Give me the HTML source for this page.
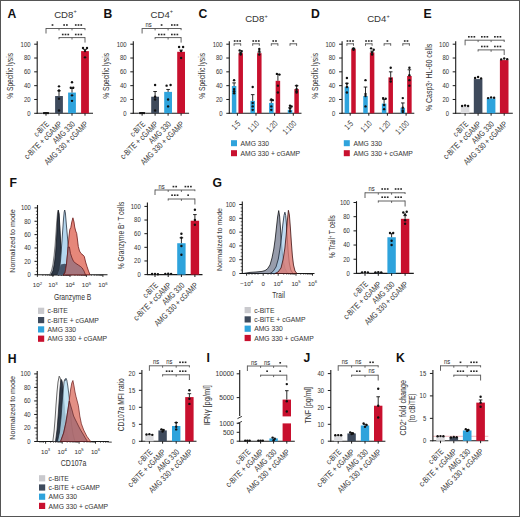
<!DOCTYPE html><html><head><meta charset="utf-8"><style>html,body{margin:0;padding:0;background:#fff;}svg{display:block;font-family:"Liberation Sans",sans-serif;} text{stroke:#3a3a3a;stroke-width:0.04px;}</style></head><body>
<svg width="520" height="517" viewBox="0 0 520 517">
<rect x="0" y="0" width="520" height="517" fill="#fff"/>
<text x="7.6" y="17.6" font-size="12.2" text-anchor="start" fill="#111" font-weight="bold" style="stroke:none">A</text>
<text x="103.4" y="17.6" font-size="12.2" text-anchor="start" fill="#111" font-weight="bold" style="stroke:none">B</text>
<text x="198.4" y="17.6" font-size="12.2" text-anchor="start" fill="#111" font-weight="bold" style="stroke:none">C</text>
<text x="311.1" y="17.6" font-size="12.2" text-anchor="start" fill="#111" font-weight="bold" style="stroke:none">D</text>
<text x="423.4" y="17.6" font-size="12.2" text-anchor="start" fill="#111" font-weight="bold" style="stroke:none">E</text>
<text x="9.6" y="187" font-size="12.2" text-anchor="start" fill="#111" font-weight="bold" style="stroke:none">F</text>
<text x="212.6" y="186.9" font-size="12.2" text-anchor="start" fill="#111" font-weight="bold" style="stroke:none">G</text>
<text x="7.7" y="363.4" font-size="12.2" text-anchor="start" fill="#111" font-weight="bold" style="stroke:none">H</text>
<text x="206.4" y="362.2" font-size="12.2" text-anchor="start" fill="#111" font-weight="bold" style="stroke:none">I</text>
<text x="303.4" y="362.2" font-size="12.2" text-anchor="start" fill="#111" font-weight="bold" style="stroke:none">J</text>
<text x="396.1" y="362.4" font-size="12.2" text-anchor="start" fill="#111" font-weight="bold" style="stroke:none">K</text>
<text x="54.2" y="17.9" font-size="9.6" fill="#383838">CD8<tspan font-size="5.6" dy="-4.6">+</tspan></text>
<text x="150.6" y="17.9" font-size="9.6" fill="#383838">CD4<tspan font-size="5.6" dy="-4.6">+</tspan></text>
<text x="245.2" y="22.3" font-size="9.6" fill="#383838">CD8<tspan font-size="5.6" dy="-4.6">+</tspan></text>
<text x="367.2" y="22.3" font-size="9.6" fill="#383838">CD4<tspan font-size="5.6" dy="-4.6">+</tspan></text>
<line x1="37.2" y1="41.2" x2="37.2" y2="113.8" stroke="#1a1a1a" stroke-width="1.1"/>
<line x1="34.2" y1="113.3" x2="37.2" y2="113.3" stroke="#1a1a1a" stroke-width="1"/>
<text x="30.5" y="115.65" font-size="6.9" text-anchor="end" fill="#383838" textLength="3.3" lengthAdjust="spacingAndGlyphs">0</text>
<line x1="34.2" y1="99.48" x2="37.2" y2="99.48" stroke="#1a1a1a" stroke-width="1"/>
<text x="30.5" y="101.83" font-size="6.9" text-anchor="end" fill="#383838" textLength="6.6" lengthAdjust="spacingAndGlyphs">20</text>
<line x1="34.2" y1="85.66" x2="37.2" y2="85.66" stroke="#1a1a1a" stroke-width="1"/>
<text x="30.5" y="88.01" font-size="6.9" text-anchor="end" fill="#383838" textLength="6.6" lengthAdjust="spacingAndGlyphs">40</text>
<line x1="34.2" y1="71.84" x2="37.2" y2="71.84" stroke="#1a1a1a" stroke-width="1"/>
<text x="30.5" y="74.19" font-size="6.9" text-anchor="end" fill="#383838" textLength="6.6" lengthAdjust="spacingAndGlyphs">60</text>
<line x1="34.2" y1="58.02" x2="37.2" y2="58.02" stroke="#1a1a1a" stroke-width="1"/>
<text x="30.5" y="60.37" font-size="6.9" text-anchor="end" fill="#383838" textLength="6.6" lengthAdjust="spacingAndGlyphs">80</text>
<line x1="34.2" y1="44.2" x2="37.2" y2="44.2" stroke="#1a1a1a" stroke-width="1"/>
<text x="30.5" y="46.55" font-size="6.9" text-anchor="end" fill="#383838" textLength="9.9" lengthAdjust="spacingAndGlyphs">100</text>
<line x1="36.7" y1="113.3" x2="93" y2="113.3" stroke="#1a1a1a" stroke-width="1.1"/>
<rect x="42.1" y="112.89" width="7.8" height="0.41" fill="#dcdcdf"/>
<line x1="46" y1="112.89" x2="46" y2="112.68" stroke="#111" stroke-width="0.9"/>
<line x1="44.2" y1="112.68" x2="47.8" y2="112.68" stroke="#111" stroke-width="0.9"/>
<circle cx="44" cy="113.09" r="1.2" fill="#111"/>
<circle cx="46" cy="113.09" r="1.2" fill="#111"/>
<circle cx="48" cy="113.09" r="1.2" fill="#111"/>
<rect x="55.1" y="96.03" width="7.8" height="17.27" fill="#3e4a5c"/>
<line x1="59" y1="96.03" x2="59" y2="90.84" stroke="#111" stroke-width="0.9"/>
<line x1="57.2" y1="90.84" x2="60.8" y2="90.84" stroke="#111" stroke-width="0.9"/>
<circle cx="59" cy="86.35" r="1.2" fill="#111"/>
<circle cx="59" cy="90.5" r="1.2" fill="#111"/>
<circle cx="59" cy="98.79" r="1.2" fill="#111"/>
<circle cx="59" cy="110.54" r="1.2" fill="#111"/>
<rect x="68.1" y="92.57" width="7.8" height="20.73" fill="#2ea3dc"/>
<line x1="72" y1="92.57" x2="72" y2="88.42" stroke="#111" stroke-width="0.9"/>
<line x1="70.2" y1="88.42" x2="73.8" y2="88.42" stroke="#111" stroke-width="0.9"/>
<circle cx="72" cy="82.2" r="1.2" fill="#111"/>
<circle cx="70.8" cy="87.73" r="1.2" fill="#111"/>
<circle cx="73.2" cy="87.73" r="1.2" fill="#111"/>
<circle cx="72" cy="95.33" r="1.2" fill="#111"/>
<circle cx="72" cy="100.86" r="1.2" fill="#111"/>
<rect x="81.1" y="51.11" width="7.8" height="62.19" fill="#c8102e"/>
<line x1="85" y1="51.11" x2="85" y2="49.38" stroke="#111" stroke-width="0.9"/>
<line x1="83.2" y1="49.38" x2="86.8" y2="49.38" stroke="#111" stroke-width="0.9"/>
<circle cx="83" cy="48" r="1.2" fill="#111"/>
<circle cx="87" cy="48" r="1.2" fill="#111"/>
<circle cx="85" cy="51.11" r="1.2" fill="#111"/>
<circle cx="85" cy="57.33" r="1.2" fill="#111"/>
<line x1="46" y1="113.3" x2="46" y2="115.7" stroke="#1a1a1a" stroke-width="1"/>
<line x1="59" y1="113.3" x2="59" y2="115.7" stroke="#1a1a1a" stroke-width="1"/>
<line x1="72" y1="113.3" x2="72" y2="115.7" stroke="#1a1a1a" stroke-width="1"/>
<line x1="85" y1="113.3" x2="85" y2="115.7" stroke="#1a1a1a" stroke-width="1"/>
<text x="49.6" y="124.7" font-size="8.4" text-anchor="end" fill="#383838" transform="rotate(-45 49.6 124.7)" textLength="17.64" lengthAdjust="spacingAndGlyphs">c-BiTE</text>
<text x="62.6" y="124.7" font-size="8.4" text-anchor="end" fill="#383838" transform="rotate(-45 62.6 124.7)" textLength="49.69" lengthAdjust="spacingAndGlyphs">c-BiTE + cGAMP</text>
<text x="75.6" y="124.7" font-size="8.4" text-anchor="end" fill="#383838" transform="rotate(-45 75.6 124.7)" textLength="27.68" lengthAdjust="spacingAndGlyphs">AMG 330</text>
<text x="88.6" y="124.7" font-size="8.4" text-anchor="end" fill="#383838" transform="rotate(-45 88.6 124.7)" textLength="57.71" lengthAdjust="spacingAndGlyphs">AMG 330 + cGAMP</text>
<line x1="46" y1="28.5" x2="85" y2="28.5" stroke="#505050" stroke-width="0.9"/>
<line x1="46" y1="28.05" x2="46" y2="33.5" stroke="#505050" stroke-width="0.9"/>
<line x1="85" y1="28.05" x2="85" y2="30.2" stroke="#505050" stroke-width="0.9"/>
<line x1="59" y1="28.5" x2="59" y2="30.4" stroke="#505050" stroke-width="0.9"/>
<line x1="72" y1="28.5" x2="72" y2="30.4" stroke="#505050" stroke-width="0.9"/>
<rect x="51.65" y="24.2" width="1.7" height="1.6" fill="#2a2a2a"/>
<rect x="63.27" y="24.2" width="1.7" height="1.6" fill="#2a2a2a"/>
<rect x="66.03" y="24.2" width="1.7" height="1.6" fill="#2a2a2a"/>
<rect x="74.9" y="24.2" width="1.7" height="1.6" fill="#2a2a2a"/>
<rect x="77.65" y="24.2" width="1.7" height="1.6" fill="#2a2a2a"/>
<rect x="80.4" y="24.2" width="1.7" height="1.6" fill="#2a2a2a"/>
<line x1="59" y1="37.6" x2="85" y2="37.6" stroke="#505050" stroke-width="0.9"/>
<line x1="59" y1="37.15" x2="59" y2="39.2" stroke="#505050" stroke-width="0.9"/>
<line x1="85" y1="37.15" x2="85" y2="42.6" stroke="#505050" stroke-width="0.9"/>
<line x1="72" y1="37.6" x2="72" y2="39.5" stroke="#505050" stroke-width="0.9"/>
<rect x="61.9" y="33.7" width="1.7" height="1.6" fill="#2a2a2a"/>
<rect x="64.65" y="33.7" width="1.7" height="1.6" fill="#2a2a2a"/>
<rect x="67.4" y="33.7" width="1.7" height="1.6" fill="#2a2a2a"/>
<rect x="74.9" y="33.7" width="1.7" height="1.6" fill="#2a2a2a"/>
<rect x="77.65" y="33.7" width="1.7" height="1.6" fill="#2a2a2a"/>
<rect x="80.4" y="33.7" width="1.7" height="1.6" fill="#2a2a2a"/>
<text x="13.4" y="75.9" font-size="8.7" text-anchor="middle" fill="#383838" textLength="45.8" lengthAdjust="spacingAndGlyphs" transform="rotate(-90 13.4 75.9)">% Specific lysis</text>
<line x1="133.3" y1="41.2" x2="133.3" y2="113.8" stroke="#1a1a1a" stroke-width="1.1"/>
<line x1="130.3" y1="113.3" x2="133.3" y2="113.3" stroke="#1a1a1a" stroke-width="1"/>
<text x="126.6" y="115.65" font-size="6.9" text-anchor="end" fill="#383838" textLength="3.3" lengthAdjust="spacingAndGlyphs">0</text>
<line x1="130.3" y1="99.48" x2="133.3" y2="99.48" stroke="#1a1a1a" stroke-width="1"/>
<text x="126.6" y="101.83" font-size="6.9" text-anchor="end" fill="#383838" textLength="6.6" lengthAdjust="spacingAndGlyphs">20</text>
<line x1="130.3" y1="85.66" x2="133.3" y2="85.66" stroke="#1a1a1a" stroke-width="1"/>
<text x="126.6" y="88.01" font-size="6.9" text-anchor="end" fill="#383838" textLength="6.6" lengthAdjust="spacingAndGlyphs">40</text>
<line x1="130.3" y1="71.84" x2="133.3" y2="71.84" stroke="#1a1a1a" stroke-width="1"/>
<text x="126.6" y="74.19" font-size="6.9" text-anchor="end" fill="#383838" textLength="6.6" lengthAdjust="spacingAndGlyphs">60</text>
<line x1="130.3" y1="58.02" x2="133.3" y2="58.02" stroke="#1a1a1a" stroke-width="1"/>
<text x="126.6" y="60.37" font-size="6.9" text-anchor="end" fill="#383838" textLength="6.6" lengthAdjust="spacingAndGlyphs">80</text>
<line x1="130.3" y1="44.2" x2="133.3" y2="44.2" stroke="#1a1a1a" stroke-width="1"/>
<text x="126.6" y="46.55" font-size="6.9" text-anchor="end" fill="#383838" textLength="9.9" lengthAdjust="spacingAndGlyphs">100</text>
<line x1="132.8" y1="113.3" x2="189.1" y2="113.3" stroke="#1a1a1a" stroke-width="1.1"/>
<rect x="138.2" y="112.89" width="7.8" height="0.41" fill="#dcdcdf"/>
<line x1="142.1" y1="112.89" x2="142.1" y2="112.68" stroke="#111" stroke-width="0.9"/>
<line x1="140.3" y1="112.68" x2="143.9" y2="112.68" stroke="#111" stroke-width="0.9"/>
<circle cx="140.1" cy="113.09" r="1.2" fill="#111"/>
<circle cx="142.1" cy="113.09" r="1.2" fill="#111"/>
<circle cx="144.1" cy="113.09" r="1.2" fill="#111"/>
<rect x="151.2" y="96.72" width="7.8" height="16.58" fill="#3e4a5c"/>
<line x1="155.1" y1="96.72" x2="155.1" y2="91.53" stroke="#111" stroke-width="0.9"/>
<line x1="153.3" y1="91.53" x2="156.9" y2="91.53" stroke="#111" stroke-width="0.9"/>
<circle cx="155.1" cy="84.97" r="1.2" fill="#111"/>
<circle cx="155.1" cy="96.72" r="1.2" fill="#111"/>
<circle cx="155.1" cy="99.48" r="1.2" fill="#111"/>
<circle cx="155.1" cy="110.54" r="1.2" fill="#111"/>
<rect x="164.2" y="91.88" width="7.8" height="21.42" fill="#2ea3dc"/>
<line x1="168.1" y1="91.88" x2="168.1" y2="89.46" stroke="#111" stroke-width="0.9"/>
<line x1="166.3" y1="89.46" x2="169.9" y2="89.46" stroke="#111" stroke-width="0.9"/>
<circle cx="166.6" cy="85.66" r="1.2" fill="#111"/>
<circle cx="170.6" cy="84.97" r="1.2" fill="#111"/>
<circle cx="168.1" cy="99.48" r="1.2" fill="#111"/>
<circle cx="168.1" cy="106.39" r="1.2" fill="#111"/>
<rect x="177.2" y="51.8" width="7.8" height="61.5" fill="#c8102e"/>
<line x1="181.1" y1="51.8" x2="181.1" y2="50.07" stroke="#111" stroke-width="0.9"/>
<line x1="179.3" y1="50.07" x2="182.9" y2="50.07" stroke="#111" stroke-width="0.9"/>
<circle cx="179.1" cy="46.96" r="1.2" fill="#111"/>
<circle cx="183.1" cy="46.96" r="1.2" fill="#111"/>
<circle cx="181.1" cy="51.11" r="1.2" fill="#111"/>
<circle cx="181.1" cy="58.02" r="1.2" fill="#111"/>
<line x1="142.1" y1="113.3" x2="142.1" y2="115.7" stroke="#1a1a1a" stroke-width="1"/>
<line x1="155.1" y1="113.3" x2="155.1" y2="115.7" stroke="#1a1a1a" stroke-width="1"/>
<line x1="168.1" y1="113.3" x2="168.1" y2="115.7" stroke="#1a1a1a" stroke-width="1"/>
<line x1="181.1" y1="113.3" x2="181.1" y2="115.7" stroke="#1a1a1a" stroke-width="1"/>
<text x="145.7" y="124.7" font-size="8.4" text-anchor="end" fill="#383838" transform="rotate(-45 145.7 124.7)" textLength="17.64" lengthAdjust="spacingAndGlyphs">c-BiTE</text>
<text x="158.7" y="124.7" font-size="8.4" text-anchor="end" fill="#383838" transform="rotate(-45 158.7 124.7)" textLength="49.69" lengthAdjust="spacingAndGlyphs">c-BiTE + cGAMP</text>
<text x="171.7" y="124.7" font-size="8.4" text-anchor="end" fill="#383838" transform="rotate(-45 171.7 124.7)" textLength="27.68" lengthAdjust="spacingAndGlyphs">AMG 330</text>
<text x="184.7" y="124.7" font-size="8.4" text-anchor="end" fill="#383838" transform="rotate(-45 184.7 124.7)" textLength="57.71" lengthAdjust="spacingAndGlyphs">AMG 330 + cGAMP</text>
<line x1="142.1" y1="28.5" x2="181.1" y2="28.5" stroke="#505050" stroke-width="0.9"/>
<line x1="142.1" y1="28.05" x2="142.1" y2="33.5" stroke="#505050" stroke-width="0.9"/>
<line x1="181.1" y1="28.05" x2="181.1" y2="30.2" stroke="#505050" stroke-width="0.9"/>
<line x1="155.1" y1="28.5" x2="155.1" y2="30.4" stroke="#505050" stroke-width="0.9"/>
<line x1="168.1" y1="28.5" x2="168.1" y2="30.4" stroke="#505050" stroke-width="0.9"/>
<text x="148.6" y="26.9" font-size="6.5" text-anchor="middle" fill="#333" textLength="6.18" lengthAdjust="spacingAndGlyphs">ns</text>
<rect x="160.75" y="24.2" width="1.7" height="1.6" fill="#2a2a2a"/>
<rect x="171" y="24.2" width="1.7" height="1.6" fill="#2a2a2a"/>
<rect x="173.75" y="24.2" width="1.7" height="1.6" fill="#2a2a2a"/>
<rect x="176.5" y="24.2" width="1.7" height="1.6" fill="#2a2a2a"/>
<line x1="155.1" y1="37.6" x2="181.1" y2="37.6" stroke="#505050" stroke-width="0.9"/>
<line x1="155.1" y1="37.15" x2="155.1" y2="39.2" stroke="#505050" stroke-width="0.9"/>
<line x1="181.1" y1="37.15" x2="181.1" y2="42.6" stroke="#505050" stroke-width="0.9"/>
<line x1="168.1" y1="37.6" x2="168.1" y2="39.5" stroke="#505050" stroke-width="0.9"/>
<rect x="158" y="33.7" width="1.7" height="1.6" fill="#2a2a2a"/>
<rect x="160.75" y="33.7" width="1.7" height="1.6" fill="#2a2a2a"/>
<rect x="163.5" y="33.7" width="1.7" height="1.6" fill="#2a2a2a"/>
<rect x="171" y="33.7" width="1.7" height="1.6" fill="#2a2a2a"/>
<rect x="173.75" y="33.7" width="1.7" height="1.6" fill="#2a2a2a"/>
<rect x="176.5" y="33.7" width="1.7" height="1.6" fill="#2a2a2a"/>
<text x="109.5" y="75.9" font-size="8.7" text-anchor="middle" fill="#383838" textLength="45.8" lengthAdjust="spacingAndGlyphs" transform="rotate(-90 109.5 75.9)">% Specific lysis</text>
<line x1="229.3" y1="41.2" x2="229.3" y2="113.8" stroke="#1a1a1a" stroke-width="1.1"/>
<line x1="226.3" y1="113.3" x2="229.3" y2="113.3" stroke="#1a1a1a" stroke-width="1"/>
<text x="222.6" y="115.65" font-size="6.9" text-anchor="end" fill="#383838" textLength="3.3" lengthAdjust="spacingAndGlyphs">0</text>
<line x1="226.3" y1="99.48" x2="229.3" y2="99.48" stroke="#1a1a1a" stroke-width="1"/>
<text x="222.6" y="101.83" font-size="6.9" text-anchor="end" fill="#383838" textLength="6.6" lengthAdjust="spacingAndGlyphs">20</text>
<line x1="226.3" y1="85.66" x2="229.3" y2="85.66" stroke="#1a1a1a" stroke-width="1"/>
<text x="222.6" y="88.01" font-size="6.9" text-anchor="end" fill="#383838" textLength="6.6" lengthAdjust="spacingAndGlyphs">40</text>
<line x1="226.3" y1="71.84" x2="229.3" y2="71.84" stroke="#1a1a1a" stroke-width="1"/>
<text x="222.6" y="74.19" font-size="6.9" text-anchor="end" fill="#383838" textLength="6.6" lengthAdjust="spacingAndGlyphs">60</text>
<line x1="226.3" y1="58.02" x2="229.3" y2="58.02" stroke="#1a1a1a" stroke-width="1"/>
<text x="222.6" y="60.37" font-size="6.9" text-anchor="end" fill="#383838" textLength="6.6" lengthAdjust="spacingAndGlyphs">80</text>
<line x1="226.3" y1="44.2" x2="229.3" y2="44.2" stroke="#1a1a1a" stroke-width="1"/>
<text x="222.6" y="46.55" font-size="6.9" text-anchor="end" fill="#383838" textLength="9.9" lengthAdjust="spacingAndGlyphs">100</text>
<line x1="228.8" y1="113.3" x2="301.5" y2="113.3" stroke="#1a1a1a" stroke-width="1.1"/>
<rect x="231.85" y="86.01" width="4.5" height="27.29" fill="#2ea3dc"/>
<line x1="234.1" y1="86.01" x2="234.1" y2="82.9" stroke="#111" stroke-width="0.9"/>
<line x1="232.3" y1="82.9" x2="235.9" y2="82.9" stroke="#111" stroke-width="0.9"/>
<circle cx="234.1" cy="80.13" r="1.2" fill="#111"/>
<circle cx="234.1" cy="89.11" r="1.2" fill="#111"/>
<circle cx="234.1" cy="91.19" r="1.2" fill="#111"/>
<circle cx="234.1" cy="93.26" r="1.2" fill="#111"/>
<rect x="238.45" y="53.18" width="4.5" height="60.12" fill="#c8102e"/>
<line x1="240.7" y1="53.18" x2="240.7" y2="52.15" stroke="#111" stroke-width="0.9"/>
<line x1="238.9" y1="52.15" x2="242.5" y2="52.15" stroke="#111" stroke-width="0.9"/>
<circle cx="239.7" cy="50.42" r="1.2" fill="#111"/>
<circle cx="241.7" cy="51.11" r="1.2" fill="#111"/>
<circle cx="240.7" cy="53.18" r="1.2" fill="#111"/>
<circle cx="240.7" cy="54.57" r="1.2" fill="#111"/>
<line x1="234.1" y1="43.8" x2="240.7" y2="43.8" stroke="#505050" stroke-width="0.9"/>
<line x1="234.1" y1="43.35" x2="234.1" y2="45.8" stroke="#505050" stroke-width="0.9"/>
<line x1="240.7" y1="43.35" x2="240.7" y2="45.8" stroke="#505050" stroke-width="0.9"/>
<rect x="233.8" y="40.2" width="1.7" height="1.6" fill="#2a2a2a"/>
<rect x="236.55" y="40.2" width="1.7" height="1.6" fill="#2a2a2a"/>
<rect x="239.3" y="40.2" width="1.7" height="1.6" fill="#2a2a2a"/>
<rect x="250.45" y="100.86" width="4.5" height="12.44" fill="#2ea3dc"/>
<line x1="252.7" y1="100.86" x2="252.7" y2="94.64" stroke="#111" stroke-width="0.9"/>
<line x1="250.9" y1="94.64" x2="254.5" y2="94.64" stroke="#111" stroke-width="0.9"/>
<circle cx="252.7" cy="87.04" r="1.2" fill="#111"/>
<circle cx="252.7" cy="102.94" r="1.2" fill="#111"/>
<circle cx="252.7" cy="106.39" r="1.2" fill="#111"/>
<circle cx="252.7" cy="109.84" r="1.2" fill="#111"/>
<rect x="257.05" y="53.18" width="4.5" height="60.12" fill="#c8102e"/>
<line x1="259.3" y1="53.18" x2="259.3" y2="52.15" stroke="#111" stroke-width="0.9"/>
<line x1="257.5" y1="52.15" x2="261.1" y2="52.15" stroke="#111" stroke-width="0.9"/>
<circle cx="259.3" cy="49.04" r="1.2" fill="#111"/>
<circle cx="259.3" cy="51.11" r="1.2" fill="#111"/>
<circle cx="259.3" cy="54.57" r="1.2" fill="#111"/>
<line x1="252.7" y1="43.8" x2="259.3" y2="43.8" stroke="#505050" stroke-width="0.9"/>
<line x1="252.7" y1="43.35" x2="252.7" y2="45.8" stroke="#505050" stroke-width="0.9"/>
<line x1="259.3" y1="43.35" x2="259.3" y2="45.8" stroke="#505050" stroke-width="0.9"/>
<rect x="252.4" y="40.2" width="1.7" height="1.6" fill="#2a2a2a"/>
<rect x="255.15" y="40.2" width="1.7" height="1.6" fill="#2a2a2a"/>
<rect x="257.9" y="40.2" width="1.7" height="1.6" fill="#2a2a2a"/>
<rect x="269.05" y="102.94" width="4.5" height="10.36" fill="#2ea3dc"/>
<line x1="271.3" y1="102.94" x2="271.3" y2="100.17" stroke="#111" stroke-width="0.9"/>
<line x1="269.5" y1="100.17" x2="273.1" y2="100.17" stroke="#111" stroke-width="0.9"/>
<circle cx="271.3" cy="99.48" r="1.2" fill="#111"/>
<circle cx="272.8" cy="100.17" r="1.2" fill="#111"/>
<circle cx="271.3" cy="106.39" r="1.2" fill="#111"/>
<circle cx="271.3" cy="109.84" r="1.2" fill="#111"/>
<rect x="275.65" y="80.82" width="4.5" height="32.48" fill="#c8102e"/>
<line x1="277.9" y1="80.82" x2="277.9" y2="74.26" stroke="#111" stroke-width="0.9"/>
<line x1="276.1" y1="74.26" x2="279.7" y2="74.26" stroke="#111" stroke-width="0.9"/>
<circle cx="276.9" cy="73.91" r="1.2" fill="#111"/>
<circle cx="279.5" cy="74.6" r="1.2" fill="#111"/>
<circle cx="277.9" cy="85.66" r="1.2" fill="#111"/>
<circle cx="277.9" cy="92.57" r="1.2" fill="#111"/>
<line x1="271.3" y1="43.8" x2="277.9" y2="43.8" stroke="#505050" stroke-width="0.9"/>
<line x1="271.3" y1="43.35" x2="271.3" y2="45.8" stroke="#505050" stroke-width="0.9"/>
<line x1="277.9" y1="43.35" x2="277.9" y2="45.8" stroke="#505050" stroke-width="0.9"/>
<rect x="272.38" y="40.2" width="1.7" height="1.6" fill="#2a2a2a"/>
<rect x="275.12" y="40.2" width="1.7" height="1.6" fill="#2a2a2a"/>
<rect x="287.75" y="109.84" width="4.5" height="3.45" fill="#2ea3dc"/>
<line x1="290" y1="109.84" x2="290" y2="107.77" stroke="#111" stroke-width="0.9"/>
<line x1="288.2" y1="107.77" x2="291.8" y2="107.77" stroke="#111" stroke-width="0.9"/>
<circle cx="290" cy="105.7" r="1.2" fill="#111"/>
<circle cx="291.6" cy="106.39" r="1.2" fill="#111"/>
<circle cx="290" cy="108.46" r="1.2" fill="#111"/>
<circle cx="290" cy="111.23" r="1.2" fill="#111"/>
<rect x="294.35" y="89.11" width="4.5" height="24.18" fill="#c8102e"/>
<line x1="296.6" y1="89.11" x2="296.6" y2="85.66" stroke="#111" stroke-width="0.9"/>
<line x1="294.8" y1="85.66" x2="298.4" y2="85.66" stroke="#111" stroke-width="0.9"/>
<circle cx="296.6" cy="85.66" r="1.2" fill="#111"/>
<circle cx="296.6" cy="89.11" r="1.2" fill="#111"/>
<circle cx="296.6" cy="91.19" r="1.2" fill="#111"/>
<circle cx="296.6" cy="92.57" r="1.2" fill="#111"/>
<line x1="290" y1="43.8" x2="296.6" y2="43.8" stroke="#505050" stroke-width="0.9"/>
<line x1="290" y1="43.35" x2="290" y2="45.8" stroke="#505050" stroke-width="0.9"/>
<line x1="296.6" y1="43.35" x2="296.6" y2="45.8" stroke="#505050" stroke-width="0.9"/>
<rect x="292.45" y="40.2" width="1.7" height="1.6" fill="#2a2a2a"/>
<line x1="237.4" y1="113.3" x2="237.4" y2="115.7" stroke="#1a1a1a" stroke-width="1"/>
<line x1="256" y1="113.3" x2="256" y2="115.7" stroke="#1a1a1a" stroke-width="1"/>
<line x1="274.6" y1="113.3" x2="274.6" y2="115.7" stroke="#1a1a1a" stroke-width="1"/>
<line x1="293.3" y1="113.3" x2="293.3" y2="115.7" stroke="#1a1a1a" stroke-width="1"/>
<text x="241" y="124.2" font-size="8.4" text-anchor="end" fill="#383838" transform="rotate(-45 241 124.2)" textLength="8.52" lengthAdjust="spacingAndGlyphs">1:5</text>
<text x="259.6" y="124.2" font-size="8.4" text-anchor="end" fill="#383838" transform="rotate(-45 259.6 124.2)" textLength="11.93" lengthAdjust="spacingAndGlyphs">1:10</text>
<text x="278.2" y="124.2" font-size="8.4" text-anchor="end" fill="#383838" transform="rotate(-45 278.2 124.2)" textLength="11.93" lengthAdjust="spacingAndGlyphs">1:20</text>
<text x="296.9" y="124.2" font-size="8.4" text-anchor="end" fill="#383838" transform="rotate(-45 296.9 124.2)" textLength="15.35" lengthAdjust="spacingAndGlyphs">1:100</text>
<text x="205.5" y="75.9" font-size="8.7" text-anchor="middle" fill="#383838" textLength="45.8" lengthAdjust="spacingAndGlyphs" transform="rotate(-90 205.5 75.9)">% Specific lysis</text>
<rect x="231" y="140.2" width="6" height="6" fill="#2ea3dc"/>
<text x="240.6" y="146" font-size="7.5" text-anchor="start" fill="#383838" textLength="28.51" lengthAdjust="spacingAndGlyphs">AMG 330</text>
<rect x="231" y="150.2" width="6" height="6" fill="#c8102e"/>
<text x="240.6" y="156" font-size="7.5" text-anchor="start" fill="#383838" textLength="59.46" lengthAdjust="spacingAndGlyphs">AMG 330 + cGAMP</text>
<line x1="342.1" y1="41.2" x2="342.1" y2="113.8" stroke="#1a1a1a" stroke-width="1.1"/>
<line x1="339.1" y1="113.3" x2="342.1" y2="113.3" stroke="#1a1a1a" stroke-width="1"/>
<text x="335.4" y="115.65" font-size="6.9" text-anchor="end" fill="#383838" textLength="3.3" lengthAdjust="spacingAndGlyphs">0</text>
<line x1="339.1" y1="99.48" x2="342.1" y2="99.48" stroke="#1a1a1a" stroke-width="1"/>
<text x="335.4" y="101.83" font-size="6.9" text-anchor="end" fill="#383838" textLength="6.6" lengthAdjust="spacingAndGlyphs">20</text>
<line x1="339.1" y1="85.66" x2="342.1" y2="85.66" stroke="#1a1a1a" stroke-width="1"/>
<text x="335.4" y="88.01" font-size="6.9" text-anchor="end" fill="#383838" textLength="6.6" lengthAdjust="spacingAndGlyphs">40</text>
<line x1="339.1" y1="71.84" x2="342.1" y2="71.84" stroke="#1a1a1a" stroke-width="1"/>
<text x="335.4" y="74.19" font-size="6.9" text-anchor="end" fill="#383838" textLength="6.6" lengthAdjust="spacingAndGlyphs">60</text>
<line x1="339.1" y1="58.02" x2="342.1" y2="58.02" stroke="#1a1a1a" stroke-width="1"/>
<text x="335.4" y="60.37" font-size="6.9" text-anchor="end" fill="#383838" textLength="6.6" lengthAdjust="spacingAndGlyphs">80</text>
<line x1="339.1" y1="44.2" x2="342.1" y2="44.2" stroke="#1a1a1a" stroke-width="1"/>
<text x="335.4" y="46.55" font-size="6.9" text-anchor="end" fill="#383838" textLength="9.9" lengthAdjust="spacingAndGlyphs">100</text>
<line x1="341.6" y1="113.3" x2="414.3" y2="113.3" stroke="#1a1a1a" stroke-width="1.1"/>
<rect x="344.65" y="86.7" width="4.5" height="26.6" fill="#2ea3dc"/>
<line x1="346.9" y1="86.7" x2="346.9" y2="83.24" stroke="#111" stroke-width="0.9"/>
<line x1="345.1" y1="83.24" x2="348.7" y2="83.24" stroke="#111" stroke-width="0.9"/>
<circle cx="346.9" cy="78.06" r="1.2" fill="#111"/>
<circle cx="346.9" cy="83.59" r="1.2" fill="#111"/>
<circle cx="346.9" cy="87.04" r="1.2" fill="#111"/>
<circle cx="346.9" cy="92.57" r="1.2" fill="#111"/>
<rect x="351.25" y="49.04" width="4.5" height="64.26" fill="#c8102e"/>
<line x1="353.5" y1="49.04" x2="353.5" y2="48.35" stroke="#111" stroke-width="0.9"/>
<line x1="351.7" y1="48.35" x2="355.3" y2="48.35" stroke="#111" stroke-width="0.9"/>
<circle cx="353.5" cy="48.35" r="1.2" fill="#111"/>
<circle cx="353.5" cy="49.04" r="1.2" fill="#111"/>
<circle cx="353.5" cy="49.73" r="1.2" fill="#111"/>
<line x1="346.9" y1="43.8" x2="353.5" y2="43.8" stroke="#505050" stroke-width="0.9"/>
<line x1="346.9" y1="43.35" x2="346.9" y2="45.8" stroke="#505050" stroke-width="0.9"/>
<line x1="353.5" y1="43.35" x2="353.5" y2="45.8" stroke="#505050" stroke-width="0.9"/>
<rect x="346.6" y="40.2" width="1.7" height="1.6" fill="#2a2a2a"/>
<rect x="349.35" y="40.2" width="1.7" height="1.6" fill="#2a2a2a"/>
<rect x="352.1" y="40.2" width="1.7" height="1.6" fill="#2a2a2a"/>
<rect x="363.25" y="96.03" width="4.5" height="17.27" fill="#2ea3dc"/>
<line x1="365.5" y1="96.03" x2="365.5" y2="87.04" stroke="#111" stroke-width="0.9"/>
<line x1="363.7" y1="87.04" x2="367.3" y2="87.04" stroke="#111" stroke-width="0.9"/>
<circle cx="365.5" cy="80.13" r="1.2" fill="#111"/>
<circle cx="365.5" cy="93.95" r="1.2" fill="#111"/>
<circle cx="365.5" cy="96.03" r="1.2" fill="#111"/>
<circle cx="365.5" cy="106.39" r="1.2" fill="#111"/>
<rect x="369.85" y="52.49" width="4.5" height="60.81" fill="#c8102e"/>
<line x1="372.1" y1="52.49" x2="372.1" y2="51.11" stroke="#111" stroke-width="0.9"/>
<line x1="370.3" y1="51.11" x2="373.9" y2="51.11" stroke="#111" stroke-width="0.9"/>
<circle cx="371.1" cy="48.35" r="1.2" fill="#111"/>
<circle cx="373.7" cy="49.73" r="1.2" fill="#111"/>
<circle cx="372.1" cy="52.49" r="1.2" fill="#111"/>
<circle cx="372.1" cy="54.57" r="1.2" fill="#111"/>
<line x1="365.5" y1="43.8" x2="372.1" y2="43.8" stroke="#505050" stroke-width="0.9"/>
<line x1="365.5" y1="43.35" x2="365.5" y2="45.8" stroke="#505050" stroke-width="0.9"/>
<line x1="372.1" y1="43.35" x2="372.1" y2="45.8" stroke="#505050" stroke-width="0.9"/>
<rect x="365.2" y="40.2" width="1.7" height="1.6" fill="#2a2a2a"/>
<rect x="367.95" y="40.2" width="1.7" height="1.6" fill="#2a2a2a"/>
<rect x="370.7" y="40.2" width="1.7" height="1.6" fill="#2a2a2a"/>
<rect x="381.85" y="103.63" width="4.5" height="9.67" fill="#2ea3dc"/>
<line x1="384.1" y1="103.63" x2="384.1" y2="99.48" stroke="#111" stroke-width="0.9"/>
<line x1="382.3" y1="99.48" x2="385.9" y2="99.48" stroke="#111" stroke-width="0.9"/>
<circle cx="383.1" cy="98.1" r="1.2" fill="#111"/>
<circle cx="385.7" cy="98.79" r="1.2" fill="#111"/>
<circle cx="384.1" cy="105.01" r="1.2" fill="#111"/>
<circle cx="384.1" cy="109.15" r="1.2" fill="#111"/>
<rect x="388.45" y="77.37" width="4.5" height="35.93" fill="#c8102e"/>
<line x1="390.7" y1="77.37" x2="390.7" y2="71.84" stroke="#111" stroke-width="0.9"/>
<line x1="388.9" y1="71.84" x2="392.5" y2="71.84" stroke="#111" stroke-width="0.9"/>
<circle cx="390.7" cy="67.69" r="1.2" fill="#111"/>
<circle cx="390.7" cy="78.75" r="1.2" fill="#111"/>
<circle cx="390.7" cy="81.51" r="1.2" fill="#111"/>
<line x1="384.1" y1="43.8" x2="390.7" y2="43.8" stroke="#505050" stroke-width="0.9"/>
<line x1="384.1" y1="43.35" x2="384.1" y2="45.8" stroke="#505050" stroke-width="0.9"/>
<line x1="390.7" y1="43.35" x2="390.7" y2="45.8" stroke="#505050" stroke-width="0.9"/>
<rect x="386.55" y="40.2" width="1.7" height="1.6" fill="#2a2a2a"/>
<rect x="400.55" y="107.77" width="4.5" height="5.53" fill="#2ea3dc"/>
<line x1="402.8" y1="107.77" x2="402.8" y2="102.94" stroke="#111" stroke-width="0.9"/>
<line x1="401" y1="102.94" x2="404.6" y2="102.94" stroke="#111" stroke-width="0.9"/>
<circle cx="402.8" cy="98.1" r="1.2" fill="#111"/>
<circle cx="402.8" cy="107.77" r="1.2" fill="#111"/>
<circle cx="402.8" cy="110.54" r="1.2" fill="#111"/>
<circle cx="402.8" cy="111.92" r="1.2" fill="#111"/>
<rect x="407.15" y="75.99" width="4.5" height="37.31" fill="#c8102e"/>
<line x1="409.4" y1="75.99" x2="409.4" y2="69.77" stroke="#111" stroke-width="0.9"/>
<line x1="407.6" y1="69.77" x2="411.2" y2="69.77" stroke="#111" stroke-width="0.9"/>
<circle cx="409.4" cy="67.69" r="1.2" fill="#111"/>
<circle cx="409.4" cy="75.3" r="1.2" fill="#111"/>
<circle cx="409.4" cy="80.13" r="1.2" fill="#111"/>
<circle cx="409.4" cy="85.66" r="1.2" fill="#111"/>
<line x1="402.8" y1="43.8" x2="409.4" y2="43.8" stroke="#505050" stroke-width="0.9"/>
<line x1="402.8" y1="43.35" x2="402.8" y2="45.8" stroke="#505050" stroke-width="0.9"/>
<line x1="409.4" y1="43.35" x2="409.4" y2="45.8" stroke="#505050" stroke-width="0.9"/>
<rect x="403.88" y="40.2" width="1.7" height="1.6" fill="#2a2a2a"/>
<rect x="406.62" y="40.2" width="1.7" height="1.6" fill="#2a2a2a"/>
<line x1="350.2" y1="113.3" x2="350.2" y2="115.7" stroke="#1a1a1a" stroke-width="1"/>
<line x1="368.8" y1="113.3" x2="368.8" y2="115.7" stroke="#1a1a1a" stroke-width="1"/>
<line x1="387.4" y1="113.3" x2="387.4" y2="115.7" stroke="#1a1a1a" stroke-width="1"/>
<line x1="406.1" y1="113.3" x2="406.1" y2="115.7" stroke="#1a1a1a" stroke-width="1"/>
<text x="353.8" y="124.2" font-size="8.4" text-anchor="end" fill="#383838" transform="rotate(-45 353.8 124.2)" textLength="8.52" lengthAdjust="spacingAndGlyphs">1:5</text>
<text x="372.4" y="124.2" font-size="8.4" text-anchor="end" fill="#383838" transform="rotate(-45 372.4 124.2)" textLength="11.93" lengthAdjust="spacingAndGlyphs">1:10</text>
<text x="391" y="124.2" font-size="8.4" text-anchor="end" fill="#383838" transform="rotate(-45 391 124.2)" textLength="11.93" lengthAdjust="spacingAndGlyphs">1:20</text>
<text x="409.7" y="124.2" font-size="8.4" text-anchor="end" fill="#383838" transform="rotate(-45 409.7 124.2)" textLength="15.35" lengthAdjust="spacingAndGlyphs">1:100</text>
<text x="318.3" y="75.9" font-size="8.7" text-anchor="middle" fill="#383838" textLength="45.8" lengthAdjust="spacingAndGlyphs" transform="rotate(-90 318.3 75.9)">% Specific lysis</text>
<rect x="343.8" y="140.2" width="6" height="6" fill="#2ea3dc"/>
<text x="353.4" y="146" font-size="7.5" text-anchor="start" fill="#383838" textLength="28.51" lengthAdjust="spacingAndGlyphs">AMG 330</text>
<rect x="343.8" y="150.2" width="6" height="6" fill="#c8102e"/>
<text x="353.4" y="156" font-size="7.5" text-anchor="start" fill="#383838" textLength="59.46" lengthAdjust="spacingAndGlyphs">AMG 330 + cGAMP</text>
<line x1="455.7" y1="41.2" x2="455.7" y2="113.8" stroke="#1a1a1a" stroke-width="1.1"/>
<line x1="452.7" y1="113.3" x2="455.7" y2="113.3" stroke="#1a1a1a" stroke-width="1"/>
<text x="449" y="115.65" font-size="6.9" text-anchor="end" fill="#383838" textLength="3.3" lengthAdjust="spacingAndGlyphs">0</text>
<line x1="452.7" y1="99.48" x2="455.7" y2="99.48" stroke="#1a1a1a" stroke-width="1"/>
<text x="449" y="101.83" font-size="6.9" text-anchor="end" fill="#383838" textLength="6.6" lengthAdjust="spacingAndGlyphs">20</text>
<line x1="452.7" y1="85.66" x2="455.7" y2="85.66" stroke="#1a1a1a" stroke-width="1"/>
<text x="449" y="88.01" font-size="6.9" text-anchor="end" fill="#383838" textLength="6.6" lengthAdjust="spacingAndGlyphs">40</text>
<line x1="452.7" y1="71.84" x2="455.7" y2="71.84" stroke="#1a1a1a" stroke-width="1"/>
<text x="449" y="74.19" font-size="6.9" text-anchor="end" fill="#383838" textLength="6.6" lengthAdjust="spacingAndGlyphs">60</text>
<line x1="452.7" y1="58.02" x2="455.7" y2="58.02" stroke="#1a1a1a" stroke-width="1"/>
<text x="449" y="60.37" font-size="6.9" text-anchor="end" fill="#383838" textLength="6.6" lengthAdjust="spacingAndGlyphs">80</text>
<line x1="452.7" y1="44.2" x2="455.7" y2="44.2" stroke="#1a1a1a" stroke-width="1"/>
<text x="449" y="46.55" font-size="6.9" text-anchor="end" fill="#383838" textLength="9.9" lengthAdjust="spacingAndGlyphs">100</text>
<line x1="455.2" y1="113.3" x2="512.8" y2="113.3" stroke="#1a1a1a" stroke-width="1.1"/>
<rect x="460.8" y="106.74" width="8.6" height="6.56" fill="#dcdcdf"/>
<circle cx="462.1" cy="106.04" r="1.2" fill="#111"/>
<circle cx="465.1" cy="105.56" r="1.2" fill="#111"/>
<circle cx="468.1" cy="105.98" r="1.2" fill="#111"/>
<rect x="473.8" y="79.1" width="8.6" height="34.2" fill="#3e4a5c"/>
<circle cx="475.1" cy="78.06" r="1.2" fill="#111"/>
<circle cx="478.1" cy="77.02" r="1.2" fill="#111"/>
<circle cx="481.1" cy="78.4" r="1.2" fill="#111"/>
<rect x="486.8" y="98.44" width="8.6" height="14.86" fill="#2ea3dc"/>
<circle cx="488.1" cy="98.1" r="1.2" fill="#111"/>
<circle cx="491.1" cy="97.41" r="1.2" fill="#111"/>
<circle cx="494.1" cy="97.82" r="1.2" fill="#111"/>
<rect x="499.9" y="60.09" width="8.6" height="53.21" fill="#c8102e"/>
<circle cx="501.2" cy="59.4" r="1.2" fill="#111"/>
<circle cx="504.2" cy="58.5" r="1.2" fill="#111"/>
<circle cx="507.2" cy="59.13" r="1.2" fill="#111"/>
<line x1="465.1" y1="113.3" x2="465.1" y2="115.7" stroke="#1a1a1a" stroke-width="1"/>
<line x1="478.1" y1="113.3" x2="478.1" y2="115.7" stroke="#1a1a1a" stroke-width="1"/>
<line x1="491.1" y1="113.3" x2="491.1" y2="115.7" stroke="#1a1a1a" stroke-width="1"/>
<line x1="504.2" y1="113.3" x2="504.2" y2="115.7" stroke="#1a1a1a" stroke-width="1"/>
<text x="468.7" y="124.7" font-size="8.4" text-anchor="end" fill="#383838" transform="rotate(-45 468.7 124.7)" textLength="17.64" lengthAdjust="spacingAndGlyphs">c-BiTE</text>
<text x="481.7" y="124.7" font-size="8.4" text-anchor="end" fill="#383838" transform="rotate(-45 481.7 124.7)" textLength="49.69" lengthAdjust="spacingAndGlyphs">c-BiTE + cGAMP</text>
<text x="494.7" y="124.7" font-size="8.4" text-anchor="end" fill="#383838" transform="rotate(-45 494.7 124.7)" textLength="27.68" lengthAdjust="spacingAndGlyphs">AMG 330</text>
<text x="507.8" y="124.7" font-size="8.4" text-anchor="end" fill="#383838" transform="rotate(-45 507.8 124.7)" textLength="57.71" lengthAdjust="spacingAndGlyphs">AMG 330 + cGAMP</text>
<line x1="465.1" y1="40.2" x2="504.2" y2="40.2" stroke="#505050" stroke-width="0.9"/>
<line x1="465.1" y1="39.75" x2="465.1" y2="45.3" stroke="#505050" stroke-width="0.9"/>
<line x1="504.2" y1="39.75" x2="504.2" y2="42" stroke="#505050" stroke-width="0.9"/>
<line x1="478.1" y1="40.2" x2="478.1" y2="42.1" stroke="#505050" stroke-width="0.9"/>
<line x1="491.1" y1="40.2" x2="491.1" y2="42.1" stroke="#505050" stroke-width="0.9"/>
<rect x="468" y="36" width="1.7" height="1.6" fill="#2a2a2a"/>
<rect x="470.75" y="36" width="1.7" height="1.6" fill="#2a2a2a"/>
<rect x="473.5" y="36" width="1.7" height="1.6" fill="#2a2a2a"/>
<rect x="481" y="36" width="1.7" height="1.6" fill="#2a2a2a"/>
<rect x="483.75" y="36" width="1.7" height="1.6" fill="#2a2a2a"/>
<rect x="486.5" y="36" width="1.7" height="1.6" fill="#2a2a2a"/>
<rect x="494.05" y="36" width="1.7" height="1.6" fill="#2a2a2a"/>
<rect x="496.8" y="36" width="1.7" height="1.6" fill="#2a2a2a"/>
<rect x="499.55" y="36" width="1.7" height="1.6" fill="#2a2a2a"/>
<line x1="478.1" y1="49.9" x2="504.2" y2="49.9" stroke="#505050" stroke-width="0.9"/>
<line x1="478.1" y1="49.45" x2="478.1" y2="51.5" stroke="#505050" stroke-width="0.9"/>
<line x1="504.2" y1="49.45" x2="504.2" y2="55" stroke="#505050" stroke-width="0.9"/>
<line x1="491.1" y1="49.9" x2="491.1" y2="51.8" stroke="#505050" stroke-width="0.9"/>
<rect x="481" y="45.7" width="1.7" height="1.6" fill="#2a2a2a"/>
<rect x="483.75" y="45.7" width="1.7" height="1.6" fill="#2a2a2a"/>
<rect x="486.5" y="45.7" width="1.7" height="1.6" fill="#2a2a2a"/>
<rect x="494.05" y="45.7" width="1.7" height="1.6" fill="#2a2a2a"/>
<rect x="496.8" y="45.7" width="1.7" height="1.6" fill="#2a2a2a"/>
<rect x="499.55" y="45.7" width="1.7" height="1.6" fill="#2a2a2a"/>
<text x="432.5" y="77.4" font-size="8.7" text-anchor="middle" fill="#383838" textLength="67.4" lengthAdjust="spacingAndGlyphs" transform="rotate(-90 432.5 77.4)">% Casp3<tspan font-size="4.8" dy="-2.8">+</tspan><tspan dy="2.8"> HL-60 cells</tspan></text>
<line x1="147.4" y1="202.4" x2="147.4" y2="275.1" stroke="#1a1a1a" stroke-width="1.1"/>
<line x1="144.4" y1="274.6" x2="147.4" y2="274.6" stroke="#1a1a1a" stroke-width="1"/>
<text x="140.7" y="276.95" font-size="6.9" text-anchor="end" fill="#383838" textLength="3.3" lengthAdjust="spacingAndGlyphs">0</text>
<line x1="144.4" y1="260.96" x2="147.4" y2="260.96" stroke="#1a1a1a" stroke-width="1"/>
<text x="140.7" y="263.31" font-size="6.9" text-anchor="end" fill="#383838" textLength="6.6" lengthAdjust="spacingAndGlyphs">20</text>
<line x1="144.4" y1="247.32" x2="147.4" y2="247.32" stroke="#1a1a1a" stroke-width="1"/>
<text x="140.7" y="249.67" font-size="6.9" text-anchor="end" fill="#383838" textLength="6.6" lengthAdjust="spacingAndGlyphs">40</text>
<line x1="144.4" y1="233.68" x2="147.4" y2="233.68" stroke="#1a1a1a" stroke-width="1"/>
<text x="140.7" y="236.03" font-size="6.9" text-anchor="end" fill="#383838" textLength="6.6" lengthAdjust="spacingAndGlyphs">60</text>
<line x1="144.4" y1="220.04" x2="147.4" y2="220.04" stroke="#1a1a1a" stroke-width="1"/>
<text x="140.7" y="222.39" font-size="6.9" text-anchor="end" fill="#383838" textLength="6.6" lengthAdjust="spacingAndGlyphs">80</text>
<line x1="144.4" y1="206.4" x2="147.4" y2="206.4" stroke="#1a1a1a" stroke-width="1"/>
<text x="140.7" y="208.75" font-size="6.9" text-anchor="end" fill="#383838" textLength="9.9" lengthAdjust="spacingAndGlyphs">100</text>
<line x1="146.9" y1="274.6" x2="202.5" y2="274.6" stroke="#1a1a1a" stroke-width="1.1"/>
<rect x="150.8" y="274.19" width="8.4" height="0.41" fill="#dcdcdf"/>
<circle cx="152.1" cy="274.05" r="1.2" fill="#111"/>
<circle cx="155" cy="273.92" r="1.2" fill="#111"/>
<circle cx="157.9" cy="274.19" r="1.2" fill="#111"/>
<rect x="164" y="274.05" width="8.4" height="0.55" fill="#3e4a5c"/>
<circle cx="165.3" cy="273.92" r="1.2" fill="#111"/>
<circle cx="168.2" cy="273.78" r="1.2" fill="#111"/>
<circle cx="171.1" cy="273.92" r="1.2" fill="#111"/>
<rect x="177.2" y="243.23" width="8.4" height="31.37" fill="#2ea3dc"/>
<line x1="181.4" y1="243.23" x2="181.4" y2="237.77" stroke="#111" stroke-width="0.9"/>
<line x1="179.6" y1="237.77" x2="183.2" y2="237.77" stroke="#111" stroke-width="0.9"/>
<circle cx="181.4" cy="233.68" r="1.2" fill="#111"/>
<circle cx="181.4" cy="237.77" r="1.2" fill="#111"/>
<circle cx="181.4" cy="245.96" r="1.2" fill="#111"/>
<circle cx="181.4" cy="254.82" r="1.2" fill="#111"/>
<rect x="190.7" y="220.72" width="8.4" height="53.88" fill="#c8102e"/>
<line x1="194.9" y1="220.72" x2="194.9" y2="214.58" stroke="#111" stroke-width="0.9"/>
<line x1="193.1" y1="214.58" x2="196.7" y2="214.58" stroke="#111" stroke-width="0.9"/>
<circle cx="194.9" cy="209.81" r="1.2" fill="#111"/>
<circle cx="194.9" cy="220.04" r="1.2" fill="#111"/>
<circle cx="194.9" cy="224.81" r="1.2" fill="#111"/>
<line x1="155" y1="274.6" x2="155" y2="277" stroke="#1a1a1a" stroke-width="1"/>
<line x1="168.2" y1="274.6" x2="168.2" y2="277" stroke="#1a1a1a" stroke-width="1"/>
<line x1="181.4" y1="274.6" x2="181.4" y2="277" stroke="#1a1a1a" stroke-width="1"/>
<line x1="194.9" y1="274.6" x2="194.9" y2="277" stroke="#1a1a1a" stroke-width="1"/>
<text x="158.6" y="286" font-size="8.4" text-anchor="end" fill="#383838" transform="rotate(-45 158.6 286)" textLength="17.64" lengthAdjust="spacingAndGlyphs">c-BiTE</text>
<text x="171.8" y="286" font-size="8.4" text-anchor="end" fill="#383838" transform="rotate(-45 171.8 286)" textLength="49.69" lengthAdjust="spacingAndGlyphs">c-BiTE + cGAMP</text>
<text x="185" y="286" font-size="8.4" text-anchor="end" fill="#383838" transform="rotate(-45 185 286)" textLength="27.68" lengthAdjust="spacingAndGlyphs">AMG 330</text>
<text x="198.5" y="286" font-size="8.4" text-anchor="end" fill="#383838" transform="rotate(-45 198.5 286)" textLength="57.71" lengthAdjust="spacingAndGlyphs">AMG 330 + cGAMP</text>
<line x1="155" y1="190" x2="194.9" y2="190" stroke="#505050" stroke-width="0.9"/>
<line x1="155" y1="189.55" x2="155" y2="195" stroke="#505050" stroke-width="0.9"/>
<line x1="194.9" y1="189.55" x2="194.9" y2="191.2" stroke="#505050" stroke-width="0.9"/>
<line x1="168.2" y1="190" x2="168.2" y2="191.9" stroke="#505050" stroke-width="0.9"/>
<line x1="181.4" y1="190" x2="181.4" y2="191.9" stroke="#505050" stroke-width="0.9"/>
<text x="161.6" y="188.5" font-size="6.5" text-anchor="middle" fill="#333" textLength="6.18" lengthAdjust="spacingAndGlyphs">ns</text>
<rect x="172.58" y="185.8" width="1.7" height="1.6" fill="#2a2a2a"/>
<rect x="175.33" y="185.8" width="1.7" height="1.6" fill="#2a2a2a"/>
<rect x="184.55" y="185.8" width="1.7" height="1.6" fill="#2a2a2a"/>
<rect x="187.3" y="185.8" width="1.7" height="1.6" fill="#2a2a2a"/>
<rect x="190.05" y="185.8" width="1.7" height="1.6" fill="#2a2a2a"/>
<line x1="168.2" y1="199" x2="194.9" y2="199" stroke="#505050" stroke-width="0.9"/>
<line x1="168.2" y1="198.55" x2="168.2" y2="200.6" stroke="#505050" stroke-width="0.9"/>
<line x1="194.9" y1="198.55" x2="194.9" y2="204.5" stroke="#505050" stroke-width="0.9"/>
<line x1="181.4" y1="199" x2="181.4" y2="200.9" stroke="#505050" stroke-width="0.9"/>
<rect x="171.2" y="194.4" width="1.7" height="1.6" fill="#2a2a2a"/>
<rect x="173.95" y="194.4" width="1.7" height="1.6" fill="#2a2a2a"/>
<rect x="176.7" y="194.4" width="1.7" height="1.6" fill="#2a2a2a"/>
<rect x="187.3" y="194.4" width="1.7" height="1.6" fill="#2a2a2a"/>
<text x="123.9" y="235.5" font-size="8.7" text-anchor="middle" fill="#383838" textLength="67.6" lengthAdjust="spacingAndGlyphs" transform="rotate(-90 123.9 235.5)">% Granzyme B<tspan font-size="4.8" dy="-2.8">+</tspan><tspan dy="2.8"> T cells</tspan></text>
<line x1="356.5" y1="201.2" x2="356.5" y2="273.9" stroke="#1a1a1a" stroke-width="1.1"/>
<line x1="353.5" y1="273.4" x2="356.5" y2="273.4" stroke="#1a1a1a" stroke-width="1"/>
<text x="349.8" y="275.75" font-size="6.9" text-anchor="end" fill="#383838" textLength="3.3" lengthAdjust="spacingAndGlyphs">0</text>
<line x1="353.5" y1="259.22" x2="356.5" y2="259.22" stroke="#1a1a1a" stroke-width="1"/>
<text x="349.8" y="261.57" font-size="6.9" text-anchor="end" fill="#383838" textLength="6.6" lengthAdjust="spacingAndGlyphs">20</text>
<line x1="353.5" y1="245.04" x2="356.5" y2="245.04" stroke="#1a1a1a" stroke-width="1"/>
<text x="349.8" y="247.39" font-size="6.9" text-anchor="end" fill="#383838" textLength="6.6" lengthAdjust="spacingAndGlyphs">40</text>
<line x1="353.5" y1="230.86" x2="356.5" y2="230.86" stroke="#1a1a1a" stroke-width="1"/>
<text x="349.8" y="233.21" font-size="6.9" text-anchor="end" fill="#383838" textLength="6.6" lengthAdjust="spacingAndGlyphs">60</text>
<line x1="353.5" y1="216.68" x2="356.5" y2="216.68" stroke="#1a1a1a" stroke-width="1"/>
<text x="349.8" y="219.03" font-size="6.9" text-anchor="end" fill="#383838" textLength="6.6" lengthAdjust="spacingAndGlyphs">80</text>
<line x1="353.5" y1="202.5" x2="356.5" y2="202.5" stroke="#1a1a1a" stroke-width="1"/>
<text x="349.8" y="204.85" font-size="6.9" text-anchor="end" fill="#383838" textLength="9.9" lengthAdjust="spacingAndGlyphs">100</text>
<line x1="356" y1="273.4" x2="413.8" y2="273.4" stroke="#1a1a1a" stroke-width="1.1"/>
<rect x="360.8" y="272.55" width="8.4" height="0.85" fill="#dcdcdf"/>
<circle cx="362.1" cy="272.34" r="1.2" fill="#111"/>
<circle cx="365" cy="272.12" r="1.2" fill="#111"/>
<circle cx="367.9" cy="272.41" r="1.2" fill="#111"/>
<rect x="374.1" y="272.55" width="8.4" height="0.85" fill="#3e4a5c"/>
<circle cx="375.4" cy="272.41" r="1.2" fill="#111"/>
<circle cx="378.3" cy="272.12" r="1.2" fill="#111"/>
<circle cx="381.2" cy="272.34" r="1.2" fill="#111"/>
<rect x="387.4" y="237.24" width="8.4" height="36.16" fill="#2ea3dc"/>
<line x1="391.6" y1="237.24" x2="391.6" y2="233.7" stroke="#111" stroke-width="0.9"/>
<line x1="389.8" y1="233.7" x2="393.4" y2="233.7" stroke="#111" stroke-width="0.9"/>
<circle cx="390" cy="232.99" r="1.2" fill="#111"/>
<circle cx="393.2" cy="232.99" r="1.2" fill="#111"/>
<circle cx="391.6" cy="240.79" r="1.2" fill="#111"/>
<circle cx="391.6" cy="245.04" r="1.2" fill="#111"/>
<rect x="400.9" y="218.81" width="8.4" height="54.59" fill="#c8102e"/>
<line x1="405.1" y1="218.81" x2="405.1" y2="215.62" stroke="#111" stroke-width="0.9"/>
<line x1="403.3" y1="215.62" x2="406.9" y2="215.62" stroke="#111" stroke-width="0.9"/>
<circle cx="403.3" cy="212.43" r="1.2" fill="#111"/>
<circle cx="406.7" cy="211.72" r="1.2" fill="#111"/>
<circle cx="405.1" cy="214.55" r="1.2" fill="#111"/>
<circle cx="405.1" cy="220.22" r="1.2" fill="#111"/>
<circle cx="405.1" cy="223.77" r="1.2" fill="#111"/>
<line x1="365" y1="273.4" x2="365" y2="275.8" stroke="#1a1a1a" stroke-width="1"/>
<line x1="378.3" y1="273.4" x2="378.3" y2="275.8" stroke="#1a1a1a" stroke-width="1"/>
<line x1="391.6" y1="273.4" x2="391.6" y2="275.8" stroke="#1a1a1a" stroke-width="1"/>
<line x1="405.1" y1="273.4" x2="405.1" y2="275.8" stroke="#1a1a1a" stroke-width="1"/>
<text x="368.6" y="284.8" font-size="8.4" text-anchor="end" fill="#383838" transform="rotate(-45 368.6 284.8)" textLength="17.64" lengthAdjust="spacingAndGlyphs">c-BiTE</text>
<text x="381.9" y="284.8" font-size="8.4" text-anchor="end" fill="#383838" transform="rotate(-45 381.9 284.8)" textLength="49.69" lengthAdjust="spacingAndGlyphs">c-BiTE + cGAMP</text>
<text x="395.2" y="284.8" font-size="8.4" text-anchor="end" fill="#383838" transform="rotate(-45 395.2 284.8)" textLength="27.68" lengthAdjust="spacingAndGlyphs">AMG 330</text>
<text x="408.7" y="284.8" font-size="8.4" text-anchor="end" fill="#383838" transform="rotate(-45 408.7 284.8)" textLength="57.71" lengthAdjust="spacingAndGlyphs">AMG 330 + cGAMP</text>
<line x1="365" y1="192.8" x2="405.1" y2="192.8" stroke="#505050" stroke-width="0.9"/>
<line x1="365" y1="192.35" x2="365" y2="198" stroke="#505050" stroke-width="0.9"/>
<line x1="405.1" y1="192.35" x2="405.1" y2="194" stroke="#505050" stroke-width="0.9"/>
<line x1="378.3" y1="192.8" x2="378.3" y2="194.7" stroke="#505050" stroke-width="0.9"/>
<line x1="391.6" y1="192.8" x2="391.6" y2="194.7" stroke="#505050" stroke-width="0.9"/>
<text x="371.65" y="190.9" font-size="6.5" text-anchor="middle" fill="#333" textLength="6.18" lengthAdjust="spacingAndGlyphs">ns</text>
<rect x="381.35" y="188.2" width="1.7" height="1.6" fill="#2a2a2a"/>
<rect x="384.1" y="188.2" width="1.7" height="1.6" fill="#2a2a2a"/>
<rect x="386.85" y="188.2" width="1.7" height="1.6" fill="#2a2a2a"/>
<rect x="394.75" y="188.2" width="1.7" height="1.6" fill="#2a2a2a"/>
<rect x="397.5" y="188.2" width="1.7" height="1.6" fill="#2a2a2a"/>
<rect x="400.25" y="188.2" width="1.7" height="1.6" fill="#2a2a2a"/>
<line x1="378.3" y1="201" x2="405.1" y2="201" stroke="#505050" stroke-width="0.9"/>
<line x1="378.3" y1="200.55" x2="378.3" y2="202.6" stroke="#505050" stroke-width="0.9"/>
<line x1="405.1" y1="200.55" x2="405.1" y2="206.5" stroke="#505050" stroke-width="0.9"/>
<line x1="391.6" y1="201" x2="391.6" y2="202.9" stroke="#505050" stroke-width="0.9"/>
<rect x="381.35" y="196.4" width="1.7" height="1.6" fill="#2a2a2a"/>
<rect x="384.1" y="196.4" width="1.7" height="1.6" fill="#2a2a2a"/>
<rect x="386.85" y="196.4" width="1.7" height="1.6" fill="#2a2a2a"/>
<rect x="394.75" y="196.4" width="1.7" height="1.6" fill="#2a2a2a"/>
<rect x="397.5" y="196.4" width="1.7" height="1.6" fill="#2a2a2a"/>
<rect x="400.25" y="196.4" width="1.7" height="1.6" fill="#2a2a2a"/>
<text x="334.6" y="236.7" font-size="8.7" text-anchor="middle" fill="#383838" textLength="43.3" lengthAdjust="spacingAndGlyphs" transform="rotate(-90 334.6 236.7)">% Trail<tspan font-size="4.8" dy="-2.8">+</tspan><tspan dy="2.8"> T cells</tspan></text>
<line x1="141.9" y1="370" x2="141.9" y2="441.8" stroke="#1a1a1a" stroke-width="1.1"/>
<line x1="138.9" y1="441.3" x2="141.9" y2="441.3" stroke="#1a1a1a" stroke-width="1"/>
<text x="135.2" y="443.65" font-size="6.9" text-anchor="end" fill="#383838" textLength="3.3" lengthAdjust="spacingAndGlyphs">0</text>
<line x1="138.9" y1="424.3" x2="141.9" y2="424.3" stroke="#1a1a1a" stroke-width="1"/>
<text x="135.2" y="426.65" font-size="6.9" text-anchor="end" fill="#383838" textLength="3.3" lengthAdjust="spacingAndGlyphs">5</text>
<line x1="138.9" y1="407.3" x2="141.9" y2="407.3" stroke="#1a1a1a" stroke-width="1"/>
<text x="135.2" y="409.65" font-size="6.9" text-anchor="end" fill="#383838" textLength="6.6" lengthAdjust="spacingAndGlyphs">10</text>
<line x1="138.9" y1="390.3" x2="141.9" y2="390.3" stroke="#1a1a1a" stroke-width="1"/>
<text x="135.2" y="392.65" font-size="6.9" text-anchor="end" fill="#383838" textLength="6.6" lengthAdjust="spacingAndGlyphs">15</text>
<line x1="138.9" y1="373.3" x2="141.9" y2="373.3" stroke="#1a1a1a" stroke-width="1"/>
<text x="135.2" y="375.65" font-size="6.9" text-anchor="end" fill="#383838" textLength="6.6" lengthAdjust="spacingAndGlyphs">20</text>
<line x1="141.4" y1="441.3" x2="196.5" y2="441.3" stroke="#1a1a1a" stroke-width="1.1"/>
<rect x="145.2" y="434.84" width="8.4" height="6.46" fill="#dcdcdf"/>
<circle cx="146.5" cy="434.5" r="1.2" fill="#111"/>
<circle cx="149.4" cy="434.16" r="1.2" fill="#111"/>
<circle cx="152.3" cy="434.84" r="1.2" fill="#111"/>
<rect x="158.4" y="430.42" width="8.4" height="10.88" fill="#3e4a5c"/>
<line x1="162.6" y1="430.42" x2="162.6" y2="429.4" stroke="#111" stroke-width="0.9"/>
<line x1="160.8" y1="429.4" x2="164.4" y2="429.4" stroke="#111" stroke-width="0.9"/>
<circle cx="161.4" cy="429.4" r="1.2" fill="#111"/>
<circle cx="163.6" cy="430.08" r="1.2" fill="#111"/>
<circle cx="162.6" cy="431.44" r="1.2" fill="#111"/>
<rect x="172" y="426" width="8.4" height="15.3" fill="#2ea3dc"/>
<line x1="176.2" y1="426" x2="176.2" y2="422.6" stroke="#111" stroke-width="0.9"/>
<line x1="174.4" y1="422.6" x2="178" y2="422.6" stroke="#111" stroke-width="0.9"/>
<circle cx="176.2" cy="422.6" r="1.2" fill="#111"/>
<circle cx="176.2" cy="426.68" r="1.2" fill="#111"/>
<circle cx="176.2" cy="429.4" r="1.2" fill="#111"/>
<rect x="185.2" y="397.1" width="8.4" height="44.2" fill="#c8102e"/>
<line x1="189.4" y1="397.1" x2="189.4" y2="393.7" stroke="#111" stroke-width="0.9"/>
<line x1="187.6" y1="393.7" x2="191.2" y2="393.7" stroke="#111" stroke-width="0.9"/>
<circle cx="189.4" cy="390.3" r="1.2" fill="#111"/>
<circle cx="189.4" cy="398.8" r="1.2" fill="#111"/>
<circle cx="189.4" cy="403.9" r="1.2" fill="#111"/>
<line x1="149.4" y1="441.3" x2="149.4" y2="443.7" stroke="#1a1a1a" stroke-width="1"/>
<line x1="162.6" y1="441.3" x2="162.6" y2="443.7" stroke="#1a1a1a" stroke-width="1"/>
<line x1="176.2" y1="441.3" x2="176.2" y2="443.7" stroke="#1a1a1a" stroke-width="1"/>
<line x1="189.4" y1="441.3" x2="189.4" y2="443.7" stroke="#1a1a1a" stroke-width="1"/>
<text x="153" y="452.7" font-size="8.4" text-anchor="end" fill="#383838" transform="rotate(-45 153 452.7)" textLength="17.64" lengthAdjust="spacingAndGlyphs">c-BiTE</text>
<text x="166.2" y="452.7" font-size="8.4" text-anchor="end" fill="#383838" transform="rotate(-45 166.2 452.7)" textLength="49.69" lengthAdjust="spacingAndGlyphs">c-BiTE + cGAMP</text>
<text x="179.8" y="452.7" font-size="8.4" text-anchor="end" fill="#383838" transform="rotate(-45 179.8 452.7)" textLength="27.68" lengthAdjust="spacingAndGlyphs">AMG 330</text>
<text x="193" y="452.7" font-size="8.4" text-anchor="end" fill="#383838" transform="rotate(-45 193 452.7)" textLength="57.71" lengthAdjust="spacingAndGlyphs">AMG 330 + cGAMP</text>
<line x1="149.4" y1="365.8" x2="189.4" y2="365.8" stroke="#505050" stroke-width="0.9"/>
<line x1="149.4" y1="365.35" x2="149.4" y2="370.8" stroke="#505050" stroke-width="0.9"/>
<line x1="189.4" y1="365.35" x2="189.4" y2="367.4" stroke="#505050" stroke-width="0.9"/>
<line x1="162.6" y1="365.8" x2="162.6" y2="367.7" stroke="#505050" stroke-width="0.9"/>
<line x1="176.2" y1="365.8" x2="176.2" y2="367.7" stroke="#505050" stroke-width="0.9"/>
<text x="156" y="364.2" font-size="6.5" text-anchor="middle" fill="#333" textLength="6.18" lengthAdjust="spacingAndGlyphs">ns</text>
<text x="169.4" y="364.2" font-size="6.5" text-anchor="middle" fill="#333" textLength="6.18" lengthAdjust="spacingAndGlyphs">ns</text>
<rect x="179.2" y="361.5" width="1.7" height="1.6" fill="#2a2a2a"/>
<rect x="181.95" y="361.5" width="1.7" height="1.6" fill="#2a2a2a"/>
<rect x="184.7" y="361.5" width="1.7" height="1.6" fill="#2a2a2a"/>
<line x1="162.6" y1="374.8" x2="189.4" y2="374.8" stroke="#505050" stroke-width="0.9"/>
<line x1="162.6" y1="374.35" x2="162.6" y2="376.5" stroke="#505050" stroke-width="0.9"/>
<line x1="189.4" y1="374.35" x2="189.4" y2="380" stroke="#505050" stroke-width="0.9"/>
<line x1="176.2" y1="374.8" x2="176.2" y2="376.7" stroke="#505050" stroke-width="0.9"/>
<rect x="165.8" y="370.4" width="1.7" height="1.6" fill="#2a2a2a"/>
<rect x="168.55" y="370.4" width="1.7" height="1.6" fill="#2a2a2a"/>
<rect x="171.3" y="370.4" width="1.7" height="1.6" fill="#2a2a2a"/>
<rect x="179.2" y="370.4" width="1.7" height="1.6" fill="#2a2a2a"/>
<rect x="181.95" y="370.4" width="1.7" height="1.6" fill="#2a2a2a"/>
<rect x="184.7" y="370.4" width="1.7" height="1.6" fill="#2a2a2a"/>
<text x="123.9" y="404.8" font-size="8.7" text-anchor="middle" fill="#383838" textLength="53.1" lengthAdjust="spacingAndGlyphs" transform="rotate(-90 123.9 404.8)">CD107a MFI ratio</text>
<line x1="330.8" y1="370" x2="330.8" y2="441.7" stroke="#1a1a1a" stroke-width="1.1"/>
<line x1="327.8" y1="441.2" x2="330.8" y2="441.2" stroke="#1a1a1a" stroke-width="1"/>
<text x="324.1" y="443.55" font-size="6.9" text-anchor="end" fill="#383838" textLength="3.3" lengthAdjust="spacingAndGlyphs">0</text>
<line x1="327.8" y1="424.3" x2="330.8" y2="424.3" stroke="#1a1a1a" stroke-width="1"/>
<text x="324.1" y="426.65" font-size="6.9" text-anchor="end" fill="#383838" textLength="6.6" lengthAdjust="spacingAndGlyphs">10</text>
<line x1="327.8" y1="407.4" x2="330.8" y2="407.4" stroke="#1a1a1a" stroke-width="1"/>
<text x="324.1" y="409.75" font-size="6.9" text-anchor="end" fill="#383838" textLength="6.6" lengthAdjust="spacingAndGlyphs">20</text>
<line x1="327.8" y1="390.5" x2="330.8" y2="390.5" stroke="#1a1a1a" stroke-width="1"/>
<text x="324.1" y="392.85" font-size="6.9" text-anchor="end" fill="#383838" textLength="6.6" lengthAdjust="spacingAndGlyphs">30</text>
<line x1="327.8" y1="373.6" x2="330.8" y2="373.6" stroke="#1a1a1a" stroke-width="1"/>
<text x="324.1" y="375.95" font-size="6.9" text-anchor="end" fill="#383838" textLength="6.6" lengthAdjust="spacingAndGlyphs">40</text>
<line x1="330.3" y1="441.2" x2="385.4" y2="441.2" stroke="#1a1a1a" stroke-width="1.1"/>
<rect x="334" y="435.28" width="8.4" height="5.92" fill="#dcdcdf"/>
<circle cx="335.3" cy="435.28" r="1.2" fill="#111"/>
<circle cx="338.2" cy="435.12" r="1.2" fill="#111"/>
<circle cx="341.1" cy="435.28" r="1.2" fill="#111"/>
<rect x="347.4" y="433.43" width="8.4" height="7.77" fill="#3e4a5c"/>
<line x1="351.6" y1="433.43" x2="351.6" y2="432.58" stroke="#111" stroke-width="0.9"/>
<line x1="349.8" y1="432.58" x2="353.4" y2="432.58" stroke="#111" stroke-width="0.9"/>
<circle cx="350.2" cy="432.41" r="1.2" fill="#111"/>
<circle cx="353" cy="433.43" r="1.2" fill="#111"/>
<circle cx="351.6" cy="434.1" r="1.2" fill="#111"/>
<rect x="360.8" y="425.48" width="8.4" height="15.72" fill="#2ea3dc"/>
<line x1="365" y1="425.48" x2="365" y2="424.3" stroke="#111" stroke-width="0.9"/>
<line x1="363.2" y1="424.3" x2="366.8" y2="424.3" stroke="#111" stroke-width="0.9"/>
<circle cx="363.6" cy="423.45" r="1.2" fill="#111"/>
<circle cx="366.6" cy="424.98" r="1.2" fill="#111"/>
<circle cx="365" cy="426.83" r="1.2" fill="#111"/>
<rect x="374" y="405.71" width="8.4" height="35.49" fill="#c8102e"/>
<line x1="378.2" y1="405.71" x2="378.2" y2="396.75" stroke="#111" stroke-width="0.9"/>
<line x1="376.4" y1="396.75" x2="380" y2="396.75" stroke="#111" stroke-width="0.9"/>
<circle cx="378.2" cy="388.81" r="1.2" fill="#111"/>
<circle cx="378.2" cy="405.71" r="1.2" fill="#111"/>
<circle cx="378.2" cy="417.54" r="1.2" fill="#111"/>
<line x1="338.2" y1="441.2" x2="338.2" y2="443.6" stroke="#1a1a1a" stroke-width="1"/>
<line x1="351.6" y1="441.2" x2="351.6" y2="443.6" stroke="#1a1a1a" stroke-width="1"/>
<line x1="365" y1="441.2" x2="365" y2="443.6" stroke="#1a1a1a" stroke-width="1"/>
<line x1="378.2" y1="441.2" x2="378.2" y2="443.6" stroke="#1a1a1a" stroke-width="1"/>
<text x="341.8" y="452.6" font-size="8.4" text-anchor="end" fill="#383838" transform="rotate(-45 341.8 452.6)" textLength="17.64" lengthAdjust="spacingAndGlyphs">c-BiTE</text>
<text x="355.2" y="452.6" font-size="8.4" text-anchor="end" fill="#383838" transform="rotate(-45 355.2 452.6)" textLength="49.69" lengthAdjust="spacingAndGlyphs">c-BiTE + cGAMP</text>
<text x="368.6" y="452.6" font-size="8.4" text-anchor="end" fill="#383838" transform="rotate(-45 368.6 452.6)" textLength="27.68" lengthAdjust="spacingAndGlyphs">AMG 330</text>
<text x="381.8" y="452.6" font-size="8.4" text-anchor="end" fill="#383838" transform="rotate(-45 381.8 452.6)" textLength="57.71" lengthAdjust="spacingAndGlyphs">AMG 330 + cGAMP</text>
<line x1="338.2" y1="365.8" x2="378.2" y2="365.8" stroke="#505050" stroke-width="0.9"/>
<line x1="338.2" y1="365.35" x2="338.2" y2="370.8" stroke="#505050" stroke-width="0.9"/>
<line x1="378.2" y1="365.35" x2="378.2" y2="367.4" stroke="#505050" stroke-width="0.9"/>
<line x1="351.6" y1="365.8" x2="351.6" y2="367.7" stroke="#505050" stroke-width="0.9"/>
<line x1="365" y1="365.8" x2="365" y2="367.7" stroke="#505050" stroke-width="0.9"/>
<text x="344.9" y="364.2" font-size="6.5" text-anchor="middle" fill="#333" textLength="6.18" lengthAdjust="spacingAndGlyphs">ns</text>
<text x="358.3" y="364.2" font-size="6.5" text-anchor="middle" fill="#333" textLength="6.18" lengthAdjust="spacingAndGlyphs">ns</text>
<rect x="369.38" y="361.5" width="1.7" height="1.6" fill="#2a2a2a"/>
<rect x="372.12" y="361.5" width="1.7" height="1.6" fill="#2a2a2a"/>
<line x1="351.6" y1="375.2" x2="378.2" y2="375.2" stroke="#505050" stroke-width="0.9"/>
<line x1="351.6" y1="374.75" x2="351.6" y2="376.8" stroke="#505050" stroke-width="0.9"/>
<line x1="378.2" y1="374.75" x2="378.2" y2="380.5" stroke="#505050" stroke-width="0.9"/>
<line x1="365" y1="375.2" x2="365" y2="377.1" stroke="#505050" stroke-width="0.9"/>
<rect x="356.07" y="370.4" width="1.7" height="1.6" fill="#2a2a2a"/>
<rect x="358.82" y="370.4" width="1.7" height="1.6" fill="#2a2a2a"/>
<text x="371.6" y="373.1" font-size="6.5" text-anchor="middle" fill="#333" textLength="6.18" lengthAdjust="spacingAndGlyphs">ns</text>
<text x="311.3" y="405.3" font-size="8.7" text-anchor="middle" fill="#383838" textLength="36.6" lengthAdjust="spacingAndGlyphs" transform="rotate(-90 311.3 405.3)">TNF [pg/ml]</text>
<line x1="432.9" y1="436.3" x2="488.3" y2="436.3" stroke="#eb9aa2" stroke-width="0.7"/>
<line x1="432.9" y1="370" x2="432.9" y2="441.3" stroke="#1a1a1a" stroke-width="1.1"/>
<line x1="429.9" y1="440.8" x2="432.9" y2="440.8" stroke="#1a1a1a" stroke-width="1"/>
<text x="426.2" y="443.15" font-size="6.9" text-anchor="end" fill="#383838" textLength="3.3" lengthAdjust="spacingAndGlyphs">0</text>
<line x1="429.9" y1="418.35" x2="432.9" y2="418.35" stroke="#1a1a1a" stroke-width="1"/>
<text x="426.2" y="420.7" font-size="6.9" text-anchor="end" fill="#383838" textLength="3.3" lengthAdjust="spacingAndGlyphs">5</text>
<line x1="429.9" y1="395.9" x2="432.9" y2="395.9" stroke="#1a1a1a" stroke-width="1"/>
<text x="426.2" y="398.25" font-size="6.9" text-anchor="end" fill="#383838" textLength="6.6" lengthAdjust="spacingAndGlyphs">10</text>
<line x1="429.9" y1="373.45" x2="432.9" y2="373.45" stroke="#1a1a1a" stroke-width="1"/>
<text x="426.2" y="375.8" font-size="6.9" text-anchor="end" fill="#383838" textLength="6.6" lengthAdjust="spacingAndGlyphs">15</text>
<line x1="432.4" y1="440.8" x2="488.3" y2="440.8" stroke="#1a1a1a" stroke-width="1.1"/>
<rect x="436.2" y="436.31" width="8.6" height="4.49" fill="#dcdcdf"/>
<circle cx="437.6" cy="436.31" r="1.2" fill="#111"/>
<circle cx="440.5" cy="436.09" r="1.2" fill="#111"/>
<circle cx="443.4" cy="436.31" r="1.2" fill="#111"/>
<rect x="449.5" y="437.21" width="8.6" height="3.59" fill="#3e4a5c"/>
<circle cx="450.9" cy="437.43" r="1.2" fill="#111"/>
<circle cx="453.8" cy="436.98" r="1.2" fill="#111"/>
<circle cx="456.7" cy="437.21" r="1.2" fill="#111"/>
<rect x="462.9" y="430.47" width="8.6" height="10.33" fill="#2ea3dc"/>
<line x1="467.2" y1="430.47" x2="467.2" y2="429.57" stroke="#111" stroke-width="0.9"/>
<line x1="465.4" y1="429.57" x2="469" y2="429.57" stroke="#111" stroke-width="0.9"/>
<circle cx="465.8" cy="429.13" r="1.2" fill="#111"/>
<circle cx="468.4" cy="430.02" r="1.2" fill="#111"/>
<circle cx="467.2" cy="430.92" r="1.2" fill="#111"/>
<rect x="476.3" y="402.63" width="8.6" height="38.16" fill="#c8102e"/>
<line x1="480.6" y1="402.63" x2="480.6" y2="399.94" stroke="#111" stroke-width="0.9"/>
<line x1="478.8" y1="399.94" x2="482.4" y2="399.94" stroke="#111" stroke-width="0.9"/>
<circle cx="480.6" cy="396.8" r="1.2" fill="#111"/>
<circle cx="480.6" cy="402.63" r="1.2" fill="#111"/>
<circle cx="480.6" cy="406.68" r="1.2" fill="#111"/>
<line x1="440.5" y1="440.8" x2="440.5" y2="443.2" stroke="#1a1a1a" stroke-width="1"/>
<line x1="453.8" y1="440.8" x2="453.8" y2="443.2" stroke="#1a1a1a" stroke-width="1"/>
<line x1="467.2" y1="440.8" x2="467.2" y2="443.2" stroke="#1a1a1a" stroke-width="1"/>
<line x1="480.6" y1="440.8" x2="480.6" y2="443.2" stroke="#1a1a1a" stroke-width="1"/>
<text x="444.1" y="452.2" font-size="8.4" text-anchor="end" fill="#383838" transform="rotate(-45 444.1 452.2)" textLength="17.64" lengthAdjust="spacingAndGlyphs">c-BiTE</text>
<text x="457.4" y="452.2" font-size="8.4" text-anchor="end" fill="#383838" transform="rotate(-45 457.4 452.2)" textLength="49.69" lengthAdjust="spacingAndGlyphs">c-BiTE + cGAMP</text>
<text x="470.8" y="452.2" font-size="8.4" text-anchor="end" fill="#383838" transform="rotate(-45 470.8 452.2)" textLength="27.68" lengthAdjust="spacingAndGlyphs">AMG 330</text>
<text x="484.2" y="452.2" font-size="8.4" text-anchor="end" fill="#383838" transform="rotate(-45 484.2 452.2)" textLength="57.71" lengthAdjust="spacingAndGlyphs">AMG 330 + cGAMP</text>
<line x1="440.5" y1="365.8" x2="480.6" y2="365.8" stroke="#505050" stroke-width="0.9"/>
<line x1="440.5" y1="365.35" x2="440.5" y2="370.8" stroke="#505050" stroke-width="0.9"/>
<line x1="480.6" y1="365.35" x2="480.6" y2="367.4" stroke="#505050" stroke-width="0.9"/>
<line x1="453.8" y1="365.8" x2="453.8" y2="367.7" stroke="#505050" stroke-width="0.9"/>
<line x1="467.2" y1="365.8" x2="467.2" y2="367.7" stroke="#505050" stroke-width="0.9"/>
<text x="447.15" y="364.2" font-size="6.5" text-anchor="middle" fill="#333" textLength="6.18" lengthAdjust="spacingAndGlyphs">ns</text>
<rect x="459.65" y="361.5" width="1.7" height="1.6" fill="#2a2a2a"/>
<rect x="470.3" y="361.5" width="1.7" height="1.6" fill="#2a2a2a"/>
<rect x="473.05" y="361.5" width="1.7" height="1.6" fill="#2a2a2a"/>
<rect x="475.8" y="361.5" width="1.7" height="1.6" fill="#2a2a2a"/>
<line x1="453.8" y1="375.2" x2="480.6" y2="375.2" stroke="#505050" stroke-width="0.9"/>
<line x1="453.8" y1="374.75" x2="453.8" y2="376.8" stroke="#505050" stroke-width="0.9"/>
<line x1="480.6" y1="374.75" x2="480.6" y2="380.5" stroke="#505050" stroke-width="0.9"/>
<line x1="467.2" y1="375.2" x2="467.2" y2="377.1" stroke="#505050" stroke-width="0.9"/>
<rect x="456.9" y="370.4" width="1.7" height="1.6" fill="#2a2a2a"/>
<rect x="459.65" y="370.4" width="1.7" height="1.6" fill="#2a2a2a"/>
<rect x="462.4" y="370.4" width="1.7" height="1.6" fill="#2a2a2a"/>
<rect x="470.3" y="370.4" width="1.7" height="1.6" fill="#2a2a2a"/>
<rect x="473.05" y="370.4" width="1.7" height="1.6" fill="#2a2a2a"/>
<rect x="475.8" y="370.4" width="1.7" height="1.6" fill="#2a2a2a"/>
<text x="406" y="407.8" font-size="8.7" text-anchor="middle" fill="#383838" textLength="55.3" lengthAdjust="spacingAndGlyphs" transform="rotate(-90 406 407.8)">CD2<tspan font-size="4.8" dy="-2.8">+</tspan><tspan dy="2.8"> fold change</tspan></text>
<text x="415.3" y="408" font-size="8.7" text-anchor="middle" fill="#383838" textLength="28.8" lengthAdjust="spacingAndGlyphs" transform="rotate(-90 415.3 408)">(to cBiTE)</text>
<line x1="239.7" y1="370" x2="239.7" y2="416" stroke="#1a1a1a" stroke-width="1.1"/>
<line x1="239.7" y1="423" x2="239.7" y2="441.8" stroke="#1a1a1a" stroke-width="1.1"/>
<line x1="237.5" y1="418.6" x2="241.9" y2="416.4" stroke="#1a1a1a" stroke-width="0.9"/>
<line x1="237.5" y1="423.6" x2="241.9" y2="421.4" stroke="#1a1a1a" stroke-width="0.9"/>
<line x1="236.7" y1="373.8" x2="239.7" y2="373.8" stroke="#1a1a1a" stroke-width="1"/>
<text x="234.1" y="376.2" font-size="6.7" text-anchor="end" fill="#383838">10000</text>
<line x1="236.7" y1="397.6" x2="239.7" y2="397.6" stroke="#1a1a1a" stroke-width="1"/>
<text x="234.1" y="400" font-size="6.7" text-anchor="end" fill="#383838">5000</text>
<line x1="236.7" y1="423.2" x2="239.7" y2="423.2" stroke="#1a1a1a" stroke-width="1"/>
<text x="234.1" y="425.6" font-size="6.7" text-anchor="end" fill="#383838">1000</text>
<line x1="236.7" y1="432.3" x2="239.7" y2="432.3" stroke="#1a1a1a" stroke-width="1"/>
<text x="234.1" y="434.7" font-size="6.7" text-anchor="end" fill="#383838">500</text>
<line x1="236.7" y1="441.2" x2="239.7" y2="441.2" stroke="#1a1a1a" stroke-width="1"/>
<text x="234.1" y="443.6" font-size="6.7" text-anchor="end" fill="#383838">0</text>
<line x1="239.2" y1="441.2" x2="294.8" y2="441.2" stroke="#1a1a1a" stroke-width="1.1"/>
<circle cx="245.2" cy="440.6" r="1.2" fill="#111"/>
<circle cx="247.4" cy="440.6" r="1.2" fill="#111"/>
<circle cx="249.6" cy="440.6" r="1.2" fill="#111"/>
<circle cx="258.4" cy="440.6" r="1.2" fill="#111"/>
<circle cx="260.6" cy="440.6" r="1.2" fill="#111"/>
<circle cx="262.8" cy="440.6" r="1.2" fill="#111"/>
<rect x="269.4" y="438.4" width="8.4" height="2.8" fill="#2ea3dc"/>
<circle cx="272.6" cy="437.6" r="1.2" fill="#111"/>
<circle cx="274.8" cy="438.8" r="1.2" fill="#111"/>
<circle cx="273.6" cy="440.2" r="1.2" fill="#111"/>
<rect x="282.6" y="399.6" width="8.4" height="16.8" fill="#c8102e"/>
<rect x="282.6" y="423.4" width="8.4" height="17.8" fill="#c8102e"/>
<line x1="286.8" y1="399.6" x2="286.8" y2="390.7" stroke="#111" stroke-width="0.9"/>
<line x1="285" y1="390.7" x2="288.6" y2="390.7" stroke="#111" stroke-width="0.9"/>
<circle cx="286.8" cy="384.1" r="1.2" fill="#111"/>
<circle cx="286.8" cy="401.2" r="1.2" fill="#111"/>
<circle cx="286.8" cy="411.5" r="1.2" fill="#111"/>
<line x1="247.4" y1="441.2" x2="247.4" y2="443.6" stroke="#1a1a1a" stroke-width="1"/>
<line x1="260.6" y1="441.2" x2="260.6" y2="443.6" stroke="#1a1a1a" stroke-width="1"/>
<line x1="273.6" y1="441.2" x2="273.6" y2="443.6" stroke="#1a1a1a" stroke-width="1"/>
<line x1="286.8" y1="441.2" x2="286.8" y2="443.6" stroke="#1a1a1a" stroke-width="1"/>
<text x="251" y="452.6" font-size="8.4" text-anchor="end" fill="#383838" transform="rotate(-45 251 452.6)" textLength="17.64" lengthAdjust="spacingAndGlyphs">c-BiTE</text>
<text x="264.2" y="452.6" font-size="8.4" text-anchor="end" fill="#383838" transform="rotate(-45 264.2 452.6)" textLength="49.69" lengthAdjust="spacingAndGlyphs">c-BiTE + cGAMP</text>
<text x="277.2" y="452.6" font-size="8.4" text-anchor="end" fill="#383838" transform="rotate(-45 277.2 452.6)" textLength="27.68" lengthAdjust="spacingAndGlyphs">AMG 330</text>
<text x="290.4" y="452.6" font-size="8.4" text-anchor="end" fill="#383838" transform="rotate(-45 290.4 452.6)" textLength="57.71" lengthAdjust="spacingAndGlyphs">AMG 330 + cGAMP</text>
<line x1="247.4" y1="366" x2="286.8" y2="366" stroke="#505050" stroke-width="0.9"/>
<line x1="247.4" y1="365.55" x2="247.4" y2="371" stroke="#505050" stroke-width="0.9"/>
<line x1="286.8" y1="365.55" x2="286.8" y2="367.6" stroke="#505050" stroke-width="0.9"/>
<line x1="260.6" y1="366" x2="260.6" y2="367.9" stroke="#505050" stroke-width="0.9"/>
<line x1="273.6" y1="366" x2="273.6" y2="367.9" stroke="#505050" stroke-width="0.9"/>
<text x="254" y="364.7" font-size="6.5" text-anchor="middle" fill="#333" textLength="6.18" lengthAdjust="spacingAndGlyphs">ns</text>
<text x="267.1" y="364.7" font-size="6.5" text-anchor="middle" fill="#333" textLength="6.18" lengthAdjust="spacingAndGlyphs">ns</text>
<rect x="279.35" y="362" width="1.7" height="1.6" fill="#2a2a2a"/>
<line x1="260.6" y1="375.2" x2="286.8" y2="375.2" stroke="#505050" stroke-width="0.9"/>
<line x1="260.6" y1="374.75" x2="260.6" y2="376.8" stroke="#505050" stroke-width="0.9"/>
<line x1="286.8" y1="374.75" x2="286.8" y2="380.5" stroke="#505050" stroke-width="0.9"/>
<line x1="273.6" y1="375.2" x2="273.6" y2="377.1" stroke="#505050" stroke-width="0.9"/>
<rect x="266.25" y="370.4" width="1.7" height="1.6" fill="#2a2a2a"/>
<rect x="279.35" y="370.4" width="1.7" height="1.6" fill="#2a2a2a"/>
<text x="210.5" y="405.2" font-size="8.7" text-anchor="middle" fill="#383838" textLength="40.3" lengthAdjust="spacingAndGlyphs" transform="rotate(-90 210.5 405.2)">IFN&#947; [pg/ml]</text>
<line x1="37.5" y1="205" x2="37.5" y2="275.2" stroke="#1a1a1a" stroke-width="1.1"/>
<line x1="34.5" y1="274.7" x2="37.5" y2="274.7" stroke="#1a1a1a" stroke-width="1"/>
<text x="30.8" y="277.05" font-size="6.9" text-anchor="end" fill="#383838" textLength="3.3" lengthAdjust="spacingAndGlyphs">0</text>
<line x1="34.5" y1="261.34" x2="37.5" y2="261.34" stroke="#1a1a1a" stroke-width="1"/>
<text x="30.8" y="263.69" font-size="6.9" text-anchor="end" fill="#383838" textLength="6.6" lengthAdjust="spacingAndGlyphs">20</text>
<line x1="34.5" y1="247.98" x2="37.5" y2="247.98" stroke="#1a1a1a" stroke-width="1"/>
<text x="30.8" y="250.33" font-size="6.9" text-anchor="end" fill="#383838" textLength="6.6" lengthAdjust="spacingAndGlyphs">40</text>
<line x1="34.5" y1="234.62" x2="37.5" y2="234.62" stroke="#1a1a1a" stroke-width="1"/>
<text x="30.8" y="236.97" font-size="6.9" text-anchor="end" fill="#383838" textLength="6.6" lengthAdjust="spacingAndGlyphs">60</text>
<line x1="34.5" y1="221.26" x2="37.5" y2="221.26" stroke="#1a1a1a" stroke-width="1"/>
<text x="30.8" y="223.61" font-size="6.9" text-anchor="end" fill="#383838" textLength="6.6" lengthAdjust="spacingAndGlyphs">80</text>
<line x1="34.5" y1="207.9" x2="37.5" y2="207.9" stroke="#1a1a1a" stroke-width="1"/>
<text x="30.8" y="210.25" font-size="6.9" text-anchor="end" fill="#383838" textLength="9.9" lengthAdjust="spacingAndGlyphs">100</text>
<line x1="35.9" y1="271.36" x2="37.5" y2="271.36" stroke="#1a1a1a" stroke-width="0.7"/>
<line x1="35.9" y1="268.02" x2="37.5" y2="268.02" stroke="#1a1a1a" stroke-width="0.7"/>
<line x1="35.9" y1="264.68" x2="37.5" y2="264.68" stroke="#1a1a1a" stroke-width="0.7"/>
<line x1="35.9" y1="258" x2="37.5" y2="258" stroke="#1a1a1a" stroke-width="0.7"/>
<line x1="35.9" y1="254.66" x2="37.5" y2="254.66" stroke="#1a1a1a" stroke-width="0.7"/>
<line x1="35.9" y1="251.32" x2="37.5" y2="251.32" stroke="#1a1a1a" stroke-width="0.7"/>
<line x1="35.9" y1="244.64" x2="37.5" y2="244.64" stroke="#1a1a1a" stroke-width="0.7"/>
<line x1="35.9" y1="241.3" x2="37.5" y2="241.3" stroke="#1a1a1a" stroke-width="0.7"/>
<line x1="35.9" y1="237.96" x2="37.5" y2="237.96" stroke="#1a1a1a" stroke-width="0.7"/>
<line x1="35.9" y1="231.28" x2="37.5" y2="231.28" stroke="#1a1a1a" stroke-width="0.7"/>
<line x1="35.9" y1="227.94" x2="37.5" y2="227.94" stroke="#1a1a1a" stroke-width="0.7"/>
<line x1="35.9" y1="224.6" x2="37.5" y2="224.6" stroke="#1a1a1a" stroke-width="0.7"/>
<line x1="35.9" y1="217.92" x2="37.5" y2="217.92" stroke="#1a1a1a" stroke-width="0.7"/>
<line x1="35.9" y1="214.58" x2="37.5" y2="214.58" stroke="#1a1a1a" stroke-width="0.7"/>
<line x1="35.9" y1="211.24" x2="37.5" y2="211.24" stroke="#1a1a1a" stroke-width="0.7"/>
<line x1="37" y1="274.7" x2="107.5" y2="274.7" stroke="#1a1a1a" stroke-width="1.1"/>
<text x="37.4" y="287.1" font-size="6.2" text-anchor="middle" fill="#383838">10<tspan font-size="4.2" dy="-2.6">2</tspan></text>
<line x1="37.4" y1="274.7" x2="37.4" y2="276.9" stroke="#1a1a1a" stroke-width="0.9"/>
<text x="52.9" y="287.1" font-size="6.2" text-anchor="middle" fill="#383838">10<tspan font-size="4.2" dy="-2.6">3</tspan></text>
<line x1="52.9" y1="274.7" x2="52.9" y2="276.9" stroke="#1a1a1a" stroke-width="0.9"/>
<text x="70" y="287.1" font-size="6.2" text-anchor="middle" fill="#383838">10<tspan font-size="4.2" dy="-2.6">4</tspan></text>
<line x1="70" y1="274.7" x2="70" y2="276.9" stroke="#1a1a1a" stroke-width="0.9"/>
<text x="86.4" y="287.1" font-size="6.2" text-anchor="middle" fill="#383838">10<tspan font-size="4.2" dy="-2.6">5</tspan></text>
<line x1="86.4" y1="274.7" x2="86.4" y2="276.9" stroke="#1a1a1a" stroke-width="0.9"/>
<text x="102.9" y="287.1" font-size="6.2" text-anchor="middle" fill="#383838">10<tspan font-size="4.2" dy="-2.6">6</tspan></text>
<line x1="102.9" y1="274.7" x2="102.9" y2="276.9" stroke="#1a1a1a" stroke-width="0.9"/>
<line x1="42.84" y1="274.7" x2="42.84" y2="276" stroke="#1a1a1a" stroke-width="0.6"/>
<line x1="45.72" y1="274.7" x2="45.72" y2="276" stroke="#1a1a1a" stroke-width="0.6"/>
<line x1="47.77" y1="274.7" x2="47.77" y2="276" stroke="#1a1a1a" stroke-width="0.6"/>
<line x1="49.36" y1="274.7" x2="49.36" y2="276" stroke="#1a1a1a" stroke-width="0.6"/>
<line x1="50.66" y1="274.7" x2="50.66" y2="276" stroke="#1a1a1a" stroke-width="0.6"/>
<line x1="51.76" y1="274.7" x2="51.76" y2="276" stroke="#1a1a1a" stroke-width="0.6"/>
<line x1="52.71" y1="274.7" x2="52.71" y2="276" stroke="#1a1a1a" stroke-width="0.6"/>
<line x1="53.55" y1="274.7" x2="53.55" y2="276" stroke="#1a1a1a" stroke-width="0.6"/>
<line x1="58.54" y1="274.7" x2="58.54" y2="276" stroke="#1a1a1a" stroke-width="0.6"/>
<line x1="61.42" y1="274.7" x2="61.42" y2="276" stroke="#1a1a1a" stroke-width="0.6"/>
<line x1="63.47" y1="274.7" x2="63.47" y2="276" stroke="#1a1a1a" stroke-width="0.6"/>
<line x1="65.06" y1="274.7" x2="65.06" y2="276" stroke="#1a1a1a" stroke-width="0.6"/>
<line x1="66.36" y1="274.7" x2="66.36" y2="276" stroke="#1a1a1a" stroke-width="0.6"/>
<line x1="67.46" y1="274.7" x2="67.46" y2="276" stroke="#1a1a1a" stroke-width="0.6"/>
<line x1="68.41" y1="274.7" x2="68.41" y2="276" stroke="#1a1a1a" stroke-width="0.6"/>
<line x1="69.25" y1="274.7" x2="69.25" y2="276" stroke="#1a1a1a" stroke-width="0.6"/>
<line x1="74.94" y1="274.7" x2="74.94" y2="276" stroke="#1a1a1a" stroke-width="0.6"/>
<line x1="77.82" y1="274.7" x2="77.82" y2="276" stroke="#1a1a1a" stroke-width="0.6"/>
<line x1="79.87" y1="274.7" x2="79.87" y2="276" stroke="#1a1a1a" stroke-width="0.6"/>
<line x1="81.46" y1="274.7" x2="81.46" y2="276" stroke="#1a1a1a" stroke-width="0.6"/>
<line x1="82.76" y1="274.7" x2="82.76" y2="276" stroke="#1a1a1a" stroke-width="0.6"/>
<line x1="83.86" y1="274.7" x2="83.86" y2="276" stroke="#1a1a1a" stroke-width="0.6"/>
<line x1="84.81" y1="274.7" x2="84.81" y2="276" stroke="#1a1a1a" stroke-width="0.6"/>
<line x1="85.65" y1="274.7" x2="85.65" y2="276" stroke="#1a1a1a" stroke-width="0.6"/>
<line x1="91.34" y1="274.7" x2="91.34" y2="276" stroke="#1a1a1a" stroke-width="0.6"/>
<line x1="94.22" y1="274.7" x2="94.22" y2="276" stroke="#1a1a1a" stroke-width="0.6"/>
<line x1="96.27" y1="274.7" x2="96.27" y2="276" stroke="#1a1a1a" stroke-width="0.6"/>
<line x1="97.86" y1="274.7" x2="97.86" y2="276" stroke="#1a1a1a" stroke-width="0.6"/>
<line x1="99.16" y1="274.7" x2="99.16" y2="276" stroke="#1a1a1a" stroke-width="0.6"/>
<line x1="100.26" y1="274.7" x2="100.26" y2="276" stroke="#1a1a1a" stroke-width="0.6"/>
<line x1="101.21" y1="274.7" x2="101.21" y2="276" stroke="#1a1a1a" stroke-width="0.6"/>
<line x1="102.05" y1="274.7" x2="102.05" y2="276" stroke="#1a1a1a" stroke-width="0.6"/>
<text x="72.6" y="299.6" font-size="8.8" text-anchor="middle" fill="#383838" textLength="37.4" lengthAdjust="spacingAndGlyphs">Granzyme B</text>
<text x="15.4" y="241" font-size="8" text-anchor="middle" fill="#383838" textLength="63.5" lengthAdjust="spacingAndGlyphs" transform="rotate(-90 15.4 241)">Normalized to mode</text>
<polygon points="49.6,274.8 51.4,271 52.8,265 54,256 55,246 55.9,234 56.7,222 57.5,213 58.2,210.4 58.9,214 59.6,226 60.4,242 61.3,256 62.6,266 64.3,274.8" fill="#b4b9c3" stroke="#3a3a3a" stroke-width="0.6" fill-opacity="1" stroke-linejoin="round"/>
<polygon points="51,274.8 53,271 54.4,264 55.5,255 56.3,244 57,231 57.6,219 58.3,210.2 59.1,214 59.8,226 60.6,242 61.6,256 63,266 64.8,272 67,274.8" fill="#2e3846" stroke="#141820" stroke-width="0.8" fill-opacity="1" stroke-linejoin="round"/>
<polygon points="57.5,274.8 59.4,270 60.6,260 61.6,246 62.6,232 63.5,219 64.2,212 64.7,210 65.4,213 66.3,224 67.2,234 67.9,242 68.3,250 68.6,258 68.9,265 70,271 72,274.8" fill="#b4d6ee" stroke="#27313f" stroke-width="0.8" fill-opacity="1" stroke-linejoin="round"/>
<polygon points="57.5,274.8 59.4,270 60.5,264.5 64.5,263.8 68.9,264.5 70,271 72,274.8" fill="#46566c" stroke="none" stroke-width="0.6" fill-opacity="1" stroke-linejoin="round"/>
<polygon points="63,274.8 65,273 66.4,265 67.4,255 68.2,246 69,236 69.8,229.5 70.8,227.5 71.8,222 72.9,217.8 74,222 74.7,227 75.7,231 76.7,233.5 77.5,240 78.3,246.5 79.5,251 81,253.5 83,255 84.3,256.5 85.6,262 87,266.5 88.5,271 90,274.8" fill="#e6877a" stroke="#6e1717" stroke-width="0.8" fill-opacity="1" stroke-linejoin="round"/>
<polygon points="63,274.8 65,273 66.4,265 67.4,255 68.2,247 69.4,247 70.5,253.5 72,258 73.6,261.5 76,263.5 78.3,265 80.5,266.5 82.2,268 84,271 85.5,274.8" fill="#a6767e" stroke="#5e1519" stroke-width="0.7" fill-opacity="1" stroke-linejoin="round"/>
<rect x="38" y="307.7" width="6.2" height="6.2" fill="#c9c9cd"/>
<text x="47.6" y="313.4" font-size="7.5" text-anchor="start" fill="#383838" textLength="20.25" lengthAdjust="spacingAndGlyphs">c-BiTE</text>
<rect x="38" y="317" width="6.2" height="6.2" fill="#3e4a5c"/>
<text x="47.6" y="322.7" font-size="7.5" text-anchor="start" fill="#383838" textLength="51.2" lengthAdjust="spacingAndGlyphs">c-BiTE + cGAMP</text>
<rect x="38" y="326.3" width="6.2" height="6.2" fill="#2ea3dc"/>
<text x="47.6" y="332" font-size="7.5" text-anchor="start" fill="#383838" textLength="28.51" lengthAdjust="spacingAndGlyphs">AMG 330</text>
<rect x="38" y="335.6" width="6.2" height="6.2" fill="#c8102e"/>
<text x="47.6" y="341.3" font-size="7.5" text-anchor="start" fill="#383838" textLength="59.46" lengthAdjust="spacingAndGlyphs">AMG 330 + cGAMP</text>
<line x1="242.3" y1="201.5" x2="242.3" y2="274" stroke="#1a1a1a" stroke-width="1.1"/>
<line x1="239.3" y1="273.5" x2="242.3" y2="273.5" stroke="#1a1a1a" stroke-width="1"/>
<text x="235.6" y="275.85" font-size="6.9" text-anchor="end" fill="#383838" textLength="3.3" lengthAdjust="spacingAndGlyphs">0</text>
<line x1="239.3" y1="259.7" x2="242.3" y2="259.7" stroke="#1a1a1a" stroke-width="1"/>
<text x="235.6" y="262.05" font-size="6.9" text-anchor="end" fill="#383838" textLength="6.6" lengthAdjust="spacingAndGlyphs">20</text>
<line x1="239.3" y1="245.9" x2="242.3" y2="245.9" stroke="#1a1a1a" stroke-width="1"/>
<text x="235.6" y="248.25" font-size="6.9" text-anchor="end" fill="#383838" textLength="6.6" lengthAdjust="spacingAndGlyphs">40</text>
<line x1="239.3" y1="232.1" x2="242.3" y2="232.1" stroke="#1a1a1a" stroke-width="1"/>
<text x="235.6" y="234.45" font-size="6.9" text-anchor="end" fill="#383838" textLength="6.6" lengthAdjust="spacingAndGlyphs">60</text>
<line x1="239.3" y1="218.3" x2="242.3" y2="218.3" stroke="#1a1a1a" stroke-width="1"/>
<text x="235.6" y="220.65" font-size="6.9" text-anchor="end" fill="#383838" textLength="6.6" lengthAdjust="spacingAndGlyphs">80</text>
<line x1="239.3" y1="204.5" x2="242.3" y2="204.5" stroke="#1a1a1a" stroke-width="1"/>
<text x="235.6" y="206.85" font-size="6.9" text-anchor="end" fill="#383838" textLength="9.9" lengthAdjust="spacingAndGlyphs">100</text>
<line x1="240.7" y1="270.05" x2="242.3" y2="270.05" stroke="#1a1a1a" stroke-width="0.7"/>
<line x1="240.7" y1="266.6" x2="242.3" y2="266.6" stroke="#1a1a1a" stroke-width="0.7"/>
<line x1="240.7" y1="263.15" x2="242.3" y2="263.15" stroke="#1a1a1a" stroke-width="0.7"/>
<line x1="240.7" y1="256.25" x2="242.3" y2="256.25" stroke="#1a1a1a" stroke-width="0.7"/>
<line x1="240.7" y1="252.8" x2="242.3" y2="252.8" stroke="#1a1a1a" stroke-width="0.7"/>
<line x1="240.7" y1="249.35" x2="242.3" y2="249.35" stroke="#1a1a1a" stroke-width="0.7"/>
<line x1="240.7" y1="242.45" x2="242.3" y2="242.45" stroke="#1a1a1a" stroke-width="0.7"/>
<line x1="240.7" y1="239" x2="242.3" y2="239" stroke="#1a1a1a" stroke-width="0.7"/>
<line x1="240.7" y1="235.55" x2="242.3" y2="235.55" stroke="#1a1a1a" stroke-width="0.7"/>
<line x1="240.7" y1="228.65" x2="242.3" y2="228.65" stroke="#1a1a1a" stroke-width="0.7"/>
<line x1="240.7" y1="225.2" x2="242.3" y2="225.2" stroke="#1a1a1a" stroke-width="0.7"/>
<line x1="240.7" y1="221.75" x2="242.3" y2="221.75" stroke="#1a1a1a" stroke-width="0.7"/>
<line x1="240.7" y1="214.85" x2="242.3" y2="214.85" stroke="#1a1a1a" stroke-width="0.7"/>
<line x1="240.7" y1="211.4" x2="242.3" y2="211.4" stroke="#1a1a1a" stroke-width="0.7"/>
<line x1="240.7" y1="207.95" x2="242.3" y2="207.95" stroke="#1a1a1a" stroke-width="0.7"/>
<line x1="241.8" y1="273.5" x2="314.5" y2="273.5" stroke="#1a1a1a" stroke-width="1.1"/>
<text x="246.6" y="285.9" font-size="6.2" text-anchor="middle" fill="#383838">&#8722;10<tspan font-size="4.2" dy="-2.6">4</tspan></text>
<line x1="246.6" y1="273.5" x2="246.6" y2="275.7" stroke="#1a1a1a" stroke-width="0.9"/>
<text x="263.2" y="285.9" font-size="6.2" text-anchor="middle" fill="#383838">0</text>
<line x1="263.2" y1="273.5" x2="263.2" y2="275.7" stroke="#1a1a1a" stroke-width="0.9"/>
<text x="278.2" y="285.9" font-size="6.2" text-anchor="middle" fill="#383838">10<tspan font-size="4.2" dy="-2.6">4</tspan></text>
<line x1="278.2" y1="273.5" x2="278.2" y2="275.7" stroke="#1a1a1a" stroke-width="0.9"/>
<text x="296" y="285.9" font-size="6.2" text-anchor="middle" fill="#383838">10<tspan font-size="4.2" dy="-2.6">5</tspan></text>
<line x1="296" y1="273.5" x2="296" y2="275.7" stroke="#1a1a1a" stroke-width="0.9"/>
<text x="312.5" y="285.9" font-size="6.2" text-anchor="middle" fill="#383838">10<tspan font-size="4.2" dy="-2.6">6</tspan></text>
<line x1="312.5" y1="273.5" x2="312.5" y2="275.7" stroke="#1a1a1a" stroke-width="0.9"/>
<line x1="283.72" y1="273.5" x2="283.72" y2="274.8" stroke="#1a1a1a" stroke-width="0.6"/>
<line x1="286.71" y1="273.5" x2="286.71" y2="274.8" stroke="#1a1a1a" stroke-width="0.6"/>
<line x1="288.84" y1="273.5" x2="288.84" y2="274.8" stroke="#1a1a1a" stroke-width="0.6"/>
<line x1="290.48" y1="273.5" x2="290.48" y2="274.8" stroke="#1a1a1a" stroke-width="0.6"/>
<line x1="291.83" y1="273.5" x2="291.83" y2="274.8" stroke="#1a1a1a" stroke-width="0.6"/>
<line x1="292.97" y1="273.5" x2="292.97" y2="274.8" stroke="#1a1a1a" stroke-width="0.6"/>
<line x1="293.95" y1="273.5" x2="293.95" y2="274.8" stroke="#1a1a1a" stroke-width="0.6"/>
<line x1="294.82" y1="273.5" x2="294.82" y2="274.8" stroke="#1a1a1a" stroke-width="0.6"/>
<line x1="300.72" y1="273.5" x2="300.72" y2="274.8" stroke="#1a1a1a" stroke-width="0.6"/>
<line x1="303.71" y1="273.5" x2="303.71" y2="274.8" stroke="#1a1a1a" stroke-width="0.6"/>
<line x1="305.84" y1="273.5" x2="305.84" y2="274.8" stroke="#1a1a1a" stroke-width="0.6"/>
<line x1="307.48" y1="273.5" x2="307.48" y2="274.8" stroke="#1a1a1a" stroke-width="0.6"/>
<line x1="308.83" y1="273.5" x2="308.83" y2="274.8" stroke="#1a1a1a" stroke-width="0.6"/>
<line x1="309.97" y1="273.5" x2="309.97" y2="274.8" stroke="#1a1a1a" stroke-width="0.6"/>
<line x1="310.95" y1="273.5" x2="310.95" y2="274.8" stroke="#1a1a1a" stroke-width="0.6"/>
<line x1="311.82" y1="273.5" x2="311.82" y2="274.8" stroke="#1a1a1a" stroke-width="0.6"/>
<line x1="249" y1="273.5" x2="249" y2="274.8" stroke="#1a1a1a" stroke-width="0.6"/>
<line x1="252" y1="273.5" x2="252" y2="274.8" stroke="#1a1a1a" stroke-width="0.6"/>
<line x1="255" y1="273.5" x2="255" y2="274.8" stroke="#1a1a1a" stroke-width="0.6"/>
<line x1="258" y1="273.5" x2="258" y2="274.8" stroke="#1a1a1a" stroke-width="0.6"/>
<line x1="268" y1="273.5" x2="268" y2="274.8" stroke="#1a1a1a" stroke-width="0.6"/>
<line x1="271" y1="273.5" x2="271" y2="274.8" stroke="#1a1a1a" stroke-width="0.6"/>
<line x1="274" y1="273.5" x2="274" y2="274.8" stroke="#1a1a1a" stroke-width="0.6"/>
<text x="278.6" y="297.7" font-size="8.9" text-anchor="middle" fill="#383838" textLength="12.6" lengthAdjust="spacingAndGlyphs">Trail</text>
<text x="221.5" y="239.5" font-size="8" text-anchor="middle" fill="#383838" textLength="63.1" lengthAdjust="spacingAndGlyphs" transform="rotate(-90 221.5 239.5)">Normalized to mode</text>
<polygon points="243,273.5 250,272.4 256,272 262,271.4 265,270.6 267.5,268.8 270,265 272,258 273.8,249 275.2,239 276.5,227 277.6,217 278.7,210.6 279.6,216 280.4,227 281.3,241 282.3,253 283.5,262 285,268.5 287,272.3 289,273.5" fill="#8e94a4" stroke="#121418" stroke-width="0.8" fill-opacity="0.92" stroke-linejoin="round"/>
<polygon points="270,273.5 273,271.5 276,267 278.3,259 280.1,248 281.6,236 282.9,224 284,215.5 284.9,212.2 285.7,215.5 286.5,225 287.3,239 288.2,252 289.3,263 290.8,270 293,273.5" fill="#a8cdea" stroke="#1b2535" stroke-width="0.8" fill-opacity="0.72" stroke-linejoin="round"/>
<polygon points="275,273.5 278,272 281,268 283.2,259 284.9,248 286.2,235 287.3,221 288.4,210.3 289.4,215 290.4,228 291.4,243 292.4,256 293.5,265 295,271 297,273.5" fill="#dc746c" stroke="#3d0f0f" stroke-width="0.8" fill-opacity="0.78" stroke-linejoin="round"/>
<rect x="244.6" y="307" width="6.2" height="6.2" fill="#c9c9cd"/>
<text x="254.2" y="312.7" font-size="7.5" text-anchor="start" fill="#383838" textLength="20.25" lengthAdjust="spacingAndGlyphs">c-BiTE</text>
<rect x="244.6" y="316.3" width="6.2" height="6.2" fill="#3e4a5c"/>
<text x="254.2" y="322" font-size="7.5" text-anchor="start" fill="#383838" textLength="51.2" lengthAdjust="spacingAndGlyphs">c-BiTE + cGAMP</text>
<rect x="244.6" y="325.6" width="6.2" height="6.2" fill="#2ea3dc"/>
<text x="254.2" y="331.3" font-size="7.5" text-anchor="start" fill="#383838" textLength="28.51" lengthAdjust="spacingAndGlyphs">AMG 330</text>
<rect x="244.6" y="334.9" width="6.2" height="6.2" fill="#c8102e"/>
<text x="254.2" y="340.6" font-size="7.5" text-anchor="start" fill="#383838" textLength="59.46" lengthAdjust="spacingAndGlyphs">AMG 330 + cGAMP</text>
<line x1="37.2" y1="371" x2="37.2" y2="442" stroke="#1a1a1a" stroke-width="1.1"/>
<line x1="34.2" y1="441.5" x2="37.2" y2="441.5" stroke="#1a1a1a" stroke-width="1"/>
<text x="30.5" y="443.85" font-size="6.9" text-anchor="end" fill="#383838" textLength="3.3" lengthAdjust="spacingAndGlyphs">0</text>
<line x1="34.2" y1="427.98" x2="37.2" y2="427.98" stroke="#1a1a1a" stroke-width="1"/>
<text x="30.5" y="430.33" font-size="6.9" text-anchor="end" fill="#383838" textLength="6.6" lengthAdjust="spacingAndGlyphs">20</text>
<line x1="34.2" y1="414.46" x2="37.2" y2="414.46" stroke="#1a1a1a" stroke-width="1"/>
<text x="30.5" y="416.81" font-size="6.9" text-anchor="end" fill="#383838" textLength="6.6" lengthAdjust="spacingAndGlyphs">40</text>
<line x1="34.2" y1="400.94" x2="37.2" y2="400.94" stroke="#1a1a1a" stroke-width="1"/>
<text x="30.5" y="403.29" font-size="6.9" text-anchor="end" fill="#383838" textLength="6.6" lengthAdjust="spacingAndGlyphs">60</text>
<line x1="34.2" y1="387.42" x2="37.2" y2="387.42" stroke="#1a1a1a" stroke-width="1"/>
<text x="30.5" y="389.77" font-size="6.9" text-anchor="end" fill="#383838" textLength="6.6" lengthAdjust="spacingAndGlyphs">80</text>
<line x1="34.2" y1="373.9" x2="37.2" y2="373.9" stroke="#1a1a1a" stroke-width="1"/>
<text x="30.5" y="376.25" font-size="6.9" text-anchor="end" fill="#383838" textLength="9.9" lengthAdjust="spacingAndGlyphs">100</text>
<line x1="35.6" y1="438.12" x2="37.2" y2="438.12" stroke="#1a1a1a" stroke-width="0.7"/>
<line x1="35.6" y1="434.74" x2="37.2" y2="434.74" stroke="#1a1a1a" stroke-width="0.7"/>
<line x1="35.6" y1="431.36" x2="37.2" y2="431.36" stroke="#1a1a1a" stroke-width="0.7"/>
<line x1="35.6" y1="424.6" x2="37.2" y2="424.6" stroke="#1a1a1a" stroke-width="0.7"/>
<line x1="35.6" y1="421.22" x2="37.2" y2="421.22" stroke="#1a1a1a" stroke-width="0.7"/>
<line x1="35.6" y1="417.84" x2="37.2" y2="417.84" stroke="#1a1a1a" stroke-width="0.7"/>
<line x1="35.6" y1="411.08" x2="37.2" y2="411.08" stroke="#1a1a1a" stroke-width="0.7"/>
<line x1="35.6" y1="407.7" x2="37.2" y2="407.7" stroke="#1a1a1a" stroke-width="0.7"/>
<line x1="35.6" y1="404.32" x2="37.2" y2="404.32" stroke="#1a1a1a" stroke-width="0.7"/>
<line x1="35.6" y1="397.56" x2="37.2" y2="397.56" stroke="#1a1a1a" stroke-width="0.7"/>
<line x1="35.6" y1="394.18" x2="37.2" y2="394.18" stroke="#1a1a1a" stroke-width="0.7"/>
<line x1="35.6" y1="390.8" x2="37.2" y2="390.8" stroke="#1a1a1a" stroke-width="0.7"/>
<line x1="35.6" y1="384.04" x2="37.2" y2="384.04" stroke="#1a1a1a" stroke-width="0.7"/>
<line x1="35.6" y1="380.66" x2="37.2" y2="380.66" stroke="#1a1a1a" stroke-width="0.7"/>
<line x1="35.6" y1="377.28" x2="37.2" y2="377.28" stroke="#1a1a1a" stroke-width="0.7"/>
<line x1="36.7" y1="441.5" x2="108.9" y2="441.5" stroke="#1a1a1a" stroke-width="1.1"/>
<text x="45.6" y="453.9" font-size="6.2" text-anchor="middle" fill="#383838">10<tspan font-size="4.2" dy="-2.6">3</tspan></text>
<line x1="45.6" y1="441.5" x2="45.6" y2="443.7" stroke="#1a1a1a" stroke-width="0.9"/>
<text x="62.2" y="453.9" font-size="6.2" text-anchor="middle" fill="#383838">10<tspan font-size="4.2" dy="-2.6">4</tspan></text>
<line x1="62.2" y1="441.5" x2="62.2" y2="443.7" stroke="#1a1a1a" stroke-width="0.9"/>
<text x="79.1" y="453.9" font-size="6.2" text-anchor="middle" fill="#383838">10<tspan font-size="4.2" dy="-2.6">5</tspan></text>
<line x1="79.1" y1="441.5" x2="79.1" y2="443.7" stroke="#1a1a1a" stroke-width="0.9"/>
<text x="95.5" y="453.9" font-size="6.2" text-anchor="middle" fill="#383838">10<tspan font-size="4.2" dy="-2.6">6</tspan></text>
<line x1="95.5" y1="441.5" x2="95.5" y2="443.7" stroke="#1a1a1a" stroke-width="0.9"/>
<line x1="50.6" y1="441.5" x2="50.6" y2="442.8" stroke="#1a1a1a" stroke-width="0.6"/>
<line x1="53.52" y1="441.5" x2="53.52" y2="442.8" stroke="#1a1a1a" stroke-width="0.6"/>
<line x1="55.59" y1="441.5" x2="55.59" y2="442.8" stroke="#1a1a1a" stroke-width="0.6"/>
<line x1="57.2" y1="441.5" x2="57.2" y2="442.8" stroke="#1a1a1a" stroke-width="0.6"/>
<line x1="58.52" y1="441.5" x2="58.52" y2="442.8" stroke="#1a1a1a" stroke-width="0.6"/>
<line x1="59.63" y1="441.5" x2="59.63" y2="442.8" stroke="#1a1a1a" stroke-width="0.6"/>
<line x1="60.59" y1="441.5" x2="60.59" y2="442.8" stroke="#1a1a1a" stroke-width="0.6"/>
<line x1="61.44" y1="441.5" x2="61.44" y2="442.8" stroke="#1a1a1a" stroke-width="0.6"/>
<line x1="67.2" y1="441.5" x2="67.2" y2="442.8" stroke="#1a1a1a" stroke-width="0.6"/>
<line x1="70.12" y1="441.5" x2="70.12" y2="442.8" stroke="#1a1a1a" stroke-width="0.6"/>
<line x1="72.19" y1="441.5" x2="72.19" y2="442.8" stroke="#1a1a1a" stroke-width="0.6"/>
<line x1="73.8" y1="441.5" x2="73.8" y2="442.8" stroke="#1a1a1a" stroke-width="0.6"/>
<line x1="75.12" y1="441.5" x2="75.12" y2="442.8" stroke="#1a1a1a" stroke-width="0.6"/>
<line x1="76.23" y1="441.5" x2="76.23" y2="442.8" stroke="#1a1a1a" stroke-width="0.6"/>
<line x1="77.19" y1="441.5" x2="77.19" y2="442.8" stroke="#1a1a1a" stroke-width="0.6"/>
<line x1="78.04" y1="441.5" x2="78.04" y2="442.8" stroke="#1a1a1a" stroke-width="0.6"/>
<line x1="84.1" y1="441.5" x2="84.1" y2="442.8" stroke="#1a1a1a" stroke-width="0.6"/>
<line x1="87.02" y1="441.5" x2="87.02" y2="442.8" stroke="#1a1a1a" stroke-width="0.6"/>
<line x1="89.09" y1="441.5" x2="89.09" y2="442.8" stroke="#1a1a1a" stroke-width="0.6"/>
<line x1="90.7" y1="441.5" x2="90.7" y2="442.8" stroke="#1a1a1a" stroke-width="0.6"/>
<line x1="92.02" y1="441.5" x2="92.02" y2="442.8" stroke="#1a1a1a" stroke-width="0.6"/>
<line x1="93.13" y1="441.5" x2="93.13" y2="442.8" stroke="#1a1a1a" stroke-width="0.6"/>
<line x1="94.09" y1="441.5" x2="94.09" y2="442.8" stroke="#1a1a1a" stroke-width="0.6"/>
<line x1="94.94" y1="441.5" x2="94.94" y2="442.8" stroke="#1a1a1a" stroke-width="0.6"/>
<line x1="100.5" y1="441.5" x2="100.5" y2="442.8" stroke="#1a1a1a" stroke-width="0.6"/>
<line x1="103.42" y1="441.5" x2="103.42" y2="442.8" stroke="#1a1a1a" stroke-width="0.6"/>
<line x1="105.49" y1="441.5" x2="105.49" y2="442.8" stroke="#1a1a1a" stroke-width="0.6"/>
<line x1="107.1" y1="441.5" x2="107.1" y2="442.8" stroke="#1a1a1a" stroke-width="0.6"/>
<line x1="108.42" y1="441.5" x2="108.42" y2="442.8" stroke="#1a1a1a" stroke-width="0.6"/>
<line x1="109.53" y1="441.5" x2="109.53" y2="442.8" stroke="#1a1a1a" stroke-width="0.6"/>
<line x1="110.49" y1="441.5" x2="110.49" y2="442.8" stroke="#1a1a1a" stroke-width="0.6"/>
<line x1="111.34" y1="441.5" x2="111.34" y2="442.8" stroke="#1a1a1a" stroke-width="0.6"/>
<line x1="40" y1="441.5" x2="40" y2="442.8" stroke="#1a1a1a" stroke-width="0.6"/>
<line x1="42" y1="441.5" x2="42" y2="442.8" stroke="#1a1a1a" stroke-width="0.6"/>
<line x1="43.5" y1="441.5" x2="43.5" y2="442.8" stroke="#1a1a1a" stroke-width="0.6"/>
<text x="73.6" y="466" font-size="8.5" text-anchor="middle" fill="#383838" textLength="25.5" lengthAdjust="spacingAndGlyphs">CD107a</text>
<text x="15.4" y="407.9" font-size="8" text-anchor="middle" fill="#383838" textLength="63.6" lengthAdjust="spacingAndGlyphs" transform="rotate(-90 15.4 407.9)">Normalized to mode</text>
<polygon points="52.8,441.5 54,432 55,420 56,405 57,392 58,382 59.2,376.2 60.2,378 61,382 61.8,390 62.5,400 63.2,415 64,430 65,441.5" fill="#f4f4f5" stroke="#2a2a2a" stroke-width="0.7" fill-opacity="1" stroke-linejoin="round"/>
<polygon points="55.5,441.5 57,430 58.2,415 59.2,400 60,388 60.8,381 61.5,379.5 62.3,382 63.2,392 64.2,405 65.5,420 67,432 69,441.5" fill="#2e3947" stroke="#15191f" stroke-width="0.7" fill-opacity="1" stroke-linejoin="round"/>
<polygon points="57.5,441.5 59.5,432 61,418 62.2,402 63.2,390 64,382 64.7,379.5 65.3,380.5 65.9,378.2 66.8,380 67.8,386 68.8,394 69.7,402 70.5,412 71.5,424 73,434 75,441.5" fill="#b6def3" stroke="#1d2836" stroke-width="0.7" fill-opacity="0.8" stroke-linejoin="round"/>
<polygon points="60.5,441.5 63.6,433 66,422 68.2,408 69.5,398 70.7,389 71.8,383 72.9,380.5 74,386 75,392 76,396.5 77.2,401 78.3,405.2 79,410 79.8,416 81.4,423.8 83.7,430 86.8,436.2 90.7,441.5" fill="#de7d70" stroke="#6a1a1a" stroke-width="0.7" fill-opacity="0.85" stroke-linejoin="round"/>
<polygon points="60.5,441.5 63.6,433 66,422 68.2,408 69.3,401 70.5,405 72,410 73.6,416 75.5,420 76.7,422.3 78.5,426 80.6,430 83,434 85.2,437.8 87.5,441.5" fill="#8f5f6c" stroke="#4a1218" stroke-width="0.6" fill-opacity="0.6" stroke-linejoin="round"/>
<rect x="39" y="475.2" width="6.2" height="6.2" fill="#c9c9cd"/>
<text x="48.6" y="480.9" font-size="7.5" text-anchor="start" fill="#383838" textLength="20.25" lengthAdjust="spacingAndGlyphs">c-BiTE</text>
<rect x="39" y="484.4" width="6.2" height="6.2" fill="#3e4a5c"/>
<text x="48.6" y="490.1" font-size="7.5" text-anchor="start" fill="#383838" textLength="51.2" lengthAdjust="spacingAndGlyphs">c-BiTE + cGAMP</text>
<rect x="39" y="493.6" width="6.2" height="6.2" fill="#2ea3dc"/>
<text x="48.6" y="499.3" font-size="7.5" text-anchor="start" fill="#383838" textLength="28.51" lengthAdjust="spacingAndGlyphs">AMG 330</text>
<rect x="39" y="502.8" width="6.2" height="6.2" fill="#c8102e"/>
<text x="48.6" y="508.5" font-size="7.5" text-anchor="start" fill="#383838" textLength="59.46" lengthAdjust="spacingAndGlyphs">AMG 330 + cGAMP</text>
<rect x="0.5" y="0.5" width="519" height="516" fill="none" stroke="#555" stroke-width="1"/>
</svg></body></html>
